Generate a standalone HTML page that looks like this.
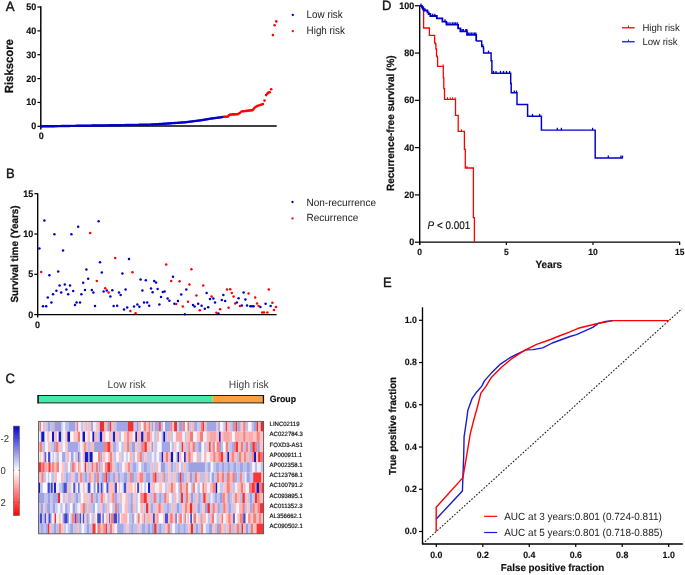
<!DOCTYPE html>
<html><head><meta charset="utf-8"><style>
html,body{margin:0;padding:0;background:#fff;}
svg{display:block;}
text{font-family:"Liberation Sans",sans-serif;text-rendering:geometricPrecision;}
text[font-weight="bold"]{stroke:#111;stroke-width:0.15px;}
text.rot[font-weight="bold"]{stroke-width:0.25px;}
</style></head><body>
<div style="will-change:transform;width:685px;height:575px"><svg width="685" height="575" viewBox="0 0 685 575">
<rect width="685" height="575" fill="#fff"/>
<text transform="translate(5.8,10.6) scale(1,1.04)" font-size="13.2" font-family="Liberation Sans, sans-serif" fill="#111" stroke="#111" stroke-width="0.35">A</text>
<line x1="40.8" y1="6.35" x2="40.8" y2="129.5" stroke="#000000" stroke-width="1.45"/>
<line x1="37.4" y1="126.30" x2="40.8" y2="126.30" stroke="#000000" stroke-width="1.2"/>
<text transform="translate(36.3,129.30) scale(1,1.04)" font-size="9" font-weight="bold" text-anchor="end" font-family="Liberation Sans, sans-serif" fill="#111">0</text>
<line x1="37.4" y1="102.44" x2="40.8" y2="102.44" stroke="#000000" stroke-width="1.2"/>
<text transform="translate(36.3,105.44) scale(1,1.04)" font-size="9" font-weight="bold" text-anchor="end" font-family="Liberation Sans, sans-serif" fill="#111">10</text>
<line x1="37.4" y1="78.58" x2="40.8" y2="78.58" stroke="#000000" stroke-width="1.2"/>
<text transform="translate(36.3,81.58) scale(1,1.04)" font-size="9" font-weight="bold" text-anchor="end" font-family="Liberation Sans, sans-serif" fill="#111">20</text>
<line x1="37.4" y1="54.72" x2="40.8" y2="54.72" stroke="#000000" stroke-width="1.2"/>
<text transform="translate(36.3,57.72) scale(1,1.04)" font-size="9" font-weight="bold" text-anchor="end" font-family="Liberation Sans, sans-serif" fill="#111">30</text>
<line x1="37.4" y1="30.86" x2="40.8" y2="30.86" stroke="#000000" stroke-width="1.2"/>
<text transform="translate(36.3,33.86) scale(1,1.04)" font-size="9" font-weight="bold" text-anchor="end" font-family="Liberation Sans, sans-serif" fill="#111">40</text>
<line x1="37.4" y1="7.00" x2="40.8" y2="7.00" stroke="#000000" stroke-width="1.2"/>
<text transform="translate(36.3,10.00) scale(1,1.04)" font-size="9" font-weight="bold" text-anchor="end" font-family="Liberation Sans, sans-serif" fill="#111">50</text>
<line x1="40.199999999999996" y1="125.95" x2="276.7" y2="125.95" stroke="#000000" stroke-width="1.35"/>
<text transform="translate(41.2,139.3) scale(1,1.04)" font-size="9" font-weight="bold" text-anchor="middle" font-family="Liberation Sans, sans-serif" fill="#111">0</text>
<text class="rot" transform="translate(13.4,66.2) rotate(-90) scale(1,1.04)" font-size="11.3" font-weight="bold" text-anchor="middle" font-family="Liberation Sans, sans-serif" fill="#111">Riskscore</text>
<circle cx="41.30" cy="126.40" r="1.2" fill="#0000c8"/>
<circle cx="42.30" cy="126.38" r="1.2" fill="#0000c8"/>
<circle cx="43.30" cy="126.36" r="1.2" fill="#0000c8"/>
<circle cx="44.30" cy="126.35" r="1.2" fill="#0000c8"/>
<circle cx="45.30" cy="126.33" r="1.2" fill="#0000c8"/>
<circle cx="46.30" cy="126.31" r="1.2" fill="#0000c8"/>
<circle cx="47.30" cy="126.30" r="1.2" fill="#0000c8"/>
<circle cx="48.30" cy="126.28" r="1.2" fill="#0000c8"/>
<circle cx="49.30" cy="126.26" r="1.2" fill="#0000c8"/>
<circle cx="50.30" cy="126.25" r="1.2" fill="#0000c8"/>
<circle cx="51.30" cy="126.23" r="1.2" fill="#0000c8"/>
<circle cx="52.30" cy="126.22" r="1.2" fill="#0000c8"/>
<circle cx="53.30" cy="126.20" r="1.2" fill="#0000c8"/>
<circle cx="54.30" cy="126.18" r="1.2" fill="#0000c8"/>
<circle cx="55.30" cy="126.17" r="1.2" fill="#0000c8"/>
<circle cx="56.30" cy="126.15" r="1.2" fill="#0000c8"/>
<circle cx="57.30" cy="126.13" r="1.2" fill="#0000c8"/>
<circle cx="58.30" cy="126.12" r="1.2" fill="#0000c8"/>
<circle cx="59.30" cy="126.10" r="1.2" fill="#0000c8"/>
<circle cx="60.30" cy="126.08" r="1.2" fill="#0000c8"/>
<circle cx="61.30" cy="126.07" r="1.2" fill="#0000c8"/>
<circle cx="62.30" cy="126.05" r="1.2" fill="#0000c8"/>
<circle cx="63.30" cy="126.04" r="1.2" fill="#0000c8"/>
<circle cx="64.30" cy="126.02" r="1.2" fill="#0000c8"/>
<circle cx="65.30" cy="126.00" r="1.2" fill="#0000c8"/>
<circle cx="66.30" cy="125.99" r="1.2" fill="#0000c8"/>
<circle cx="67.30" cy="125.97" r="1.2" fill="#0000c8"/>
<circle cx="68.30" cy="125.95" r="1.2" fill="#0000c8"/>
<circle cx="69.30" cy="125.94" r="1.2" fill="#0000c8"/>
<circle cx="70.30" cy="125.92" r="1.2" fill="#0000c8"/>
<circle cx="71.30" cy="125.91" r="1.2" fill="#0000c8"/>
<circle cx="72.30" cy="125.89" r="1.2" fill="#0000c8"/>
<circle cx="73.30" cy="125.87" r="1.2" fill="#0000c8"/>
<circle cx="74.30" cy="125.86" r="1.2" fill="#0000c8"/>
<circle cx="75.30" cy="125.84" r="1.2" fill="#0000c8"/>
<circle cx="76.30" cy="125.82" r="1.2" fill="#0000c8"/>
<circle cx="77.30" cy="125.81" r="1.2" fill="#0000c8"/>
<circle cx="78.30" cy="125.79" r="1.2" fill="#0000c8"/>
<circle cx="79.30" cy="125.77" r="1.2" fill="#0000c8"/>
<circle cx="80.30" cy="125.76" r="1.2" fill="#0000c8"/>
<circle cx="81.30" cy="125.74" r="1.2" fill="#0000c8"/>
<circle cx="82.30" cy="125.73" r="1.2" fill="#0000c8"/>
<circle cx="83.30" cy="125.71" r="1.2" fill="#0000c8"/>
<circle cx="84.30" cy="125.69" r="1.2" fill="#0000c8"/>
<circle cx="85.30" cy="125.68" r="1.2" fill="#0000c8"/>
<circle cx="86.30" cy="125.66" r="1.2" fill="#0000c8"/>
<circle cx="87.30" cy="125.64" r="1.2" fill="#0000c8"/>
<circle cx="88.30" cy="125.63" r="1.2" fill="#0000c8"/>
<circle cx="89.30" cy="125.61" r="1.2" fill="#0000c8"/>
<circle cx="90.30" cy="125.60" r="1.2" fill="#0000c8"/>
<circle cx="91.30" cy="125.58" r="1.2" fill="#0000c8"/>
<circle cx="92.30" cy="125.57" r="1.2" fill="#0000c8"/>
<circle cx="93.30" cy="125.55" r="1.2" fill="#0000c8"/>
<circle cx="94.30" cy="125.54" r="1.2" fill="#0000c8"/>
<circle cx="95.30" cy="125.52" r="1.2" fill="#0000c8"/>
<circle cx="96.30" cy="125.51" r="1.2" fill="#0000c8"/>
<circle cx="97.30" cy="125.49" r="1.2" fill="#0000c8"/>
<circle cx="98.30" cy="125.48" r="1.2" fill="#0000c8"/>
<circle cx="99.30" cy="125.46" r="1.2" fill="#0000c8"/>
<circle cx="100.30" cy="125.45" r="1.2" fill="#0000c8"/>
<circle cx="101.30" cy="125.43" r="1.2" fill="#0000c8"/>
<circle cx="102.30" cy="125.42" r="1.2" fill="#0000c8"/>
<circle cx="103.30" cy="125.40" r="1.2" fill="#0000c8"/>
<circle cx="104.30" cy="125.39" r="1.2" fill="#0000c8"/>
<circle cx="105.30" cy="125.37" r="1.2" fill="#0000c8"/>
<circle cx="106.30" cy="125.36" r="1.2" fill="#0000c8"/>
<circle cx="107.30" cy="125.34" r="1.2" fill="#0000c8"/>
<circle cx="108.30" cy="125.33" r="1.2" fill="#0000c8"/>
<circle cx="109.30" cy="125.31" r="1.2" fill="#0000c8"/>
<circle cx="110.30" cy="125.30" r="1.2" fill="#0000c8"/>
<circle cx="111.30" cy="125.28" r="1.2" fill="#0000c8"/>
<circle cx="112.30" cy="125.27" r="1.2" fill="#0000c8"/>
<circle cx="113.30" cy="125.25" r="1.2" fill="#0000c8"/>
<circle cx="114.30" cy="125.24" r="1.2" fill="#0000c8"/>
<circle cx="115.30" cy="125.22" r="1.2" fill="#0000c8"/>
<circle cx="116.30" cy="125.21" r="1.2" fill="#0000c8"/>
<circle cx="117.30" cy="125.19" r="1.2" fill="#0000c8"/>
<circle cx="118.30" cy="125.18" r="1.2" fill="#0000c8"/>
<circle cx="119.30" cy="125.16" r="1.2" fill="#0000c8"/>
<circle cx="120.30" cy="125.15" r="1.2" fill="#0000c8"/>
<circle cx="121.30" cy="125.13" r="1.2" fill="#0000c8"/>
<circle cx="122.30" cy="125.12" r="1.2" fill="#0000c8"/>
<circle cx="123.30" cy="125.10" r="1.2" fill="#0000c8"/>
<circle cx="124.30" cy="125.09" r="1.2" fill="#0000c8"/>
<circle cx="125.30" cy="125.07" r="1.2" fill="#0000c8"/>
<circle cx="126.30" cy="125.06" r="1.2" fill="#0000c8"/>
<circle cx="127.30" cy="125.04" r="1.2" fill="#0000c8"/>
<circle cx="128.30" cy="125.03" r="1.2" fill="#0000c8"/>
<circle cx="129.30" cy="125.01" r="1.2" fill="#0000c8"/>
<circle cx="130.30" cy="124.99" r="1.2" fill="#0000c8"/>
<circle cx="131.30" cy="124.97" r="1.2" fill="#0000c8"/>
<circle cx="132.30" cy="124.95" r="1.2" fill="#0000c8"/>
<circle cx="133.30" cy="124.93" r="1.2" fill="#0000c8"/>
<circle cx="134.30" cy="124.91" r="1.2" fill="#0000c8"/>
<circle cx="135.30" cy="124.89" r="1.2" fill="#0000c8"/>
<circle cx="136.30" cy="124.87" r="1.2" fill="#0000c8"/>
<circle cx="137.30" cy="124.85" r="1.2" fill="#0000c8"/>
<circle cx="138.30" cy="124.83" r="1.2" fill="#0000c8"/>
<circle cx="139.30" cy="124.81" r="1.2" fill="#0000c8"/>
<circle cx="140.30" cy="124.79" r="1.2" fill="#0000c8"/>
<circle cx="141.30" cy="124.77" r="1.2" fill="#0000c8"/>
<circle cx="142.30" cy="124.75" r="1.2" fill="#0000c8"/>
<circle cx="143.30" cy="124.73" r="1.2" fill="#0000c8"/>
<circle cx="144.30" cy="124.71" r="1.2" fill="#0000c8"/>
<circle cx="145.30" cy="124.69" r="1.2" fill="#0000c8"/>
<circle cx="146.30" cy="124.67" r="1.2" fill="#0000c8"/>
<circle cx="147.30" cy="124.65" r="1.2" fill="#0000c8"/>
<circle cx="148.30" cy="124.63" r="1.2" fill="#0000c8"/>
<circle cx="149.30" cy="124.61" r="1.2" fill="#0000c8"/>
<circle cx="150.30" cy="124.58" r="1.2" fill="#0000c8"/>
<circle cx="151.30" cy="124.52" r="1.2" fill="#0000c8"/>
<circle cx="152.30" cy="124.46" r="1.2" fill="#0000c8"/>
<circle cx="153.30" cy="124.39" r="1.2" fill="#0000c8"/>
<circle cx="154.30" cy="124.33" r="1.2" fill="#0000c8"/>
<circle cx="155.30" cy="124.27" r="1.2" fill="#0000c8"/>
<circle cx="156.30" cy="124.20" r="1.2" fill="#0000c8"/>
<circle cx="157.30" cy="124.14" r="1.2" fill="#0000c8"/>
<circle cx="158.30" cy="124.08" r="1.2" fill="#0000c8"/>
<circle cx="159.30" cy="124.02" r="1.2" fill="#0000c8"/>
<circle cx="160.30" cy="123.95" r="1.2" fill="#0000c8"/>
<circle cx="161.30" cy="123.89" r="1.2" fill="#0000c8"/>
<circle cx="162.30" cy="123.83" r="1.2" fill="#0000c8"/>
<circle cx="163.30" cy="123.76" r="1.2" fill="#0000c8"/>
<circle cx="164.30" cy="123.70" r="1.2" fill="#0000c8"/>
<circle cx="165.30" cy="123.64" r="1.2" fill="#0000c8"/>
<circle cx="166.30" cy="123.58" r="1.2" fill="#0000c8"/>
<circle cx="167.30" cy="123.51" r="1.2" fill="#0000c8"/>
<circle cx="168.30" cy="123.45" r="1.2" fill="#0000c8"/>
<circle cx="169.30" cy="123.38" r="1.2" fill="#0000c8"/>
<circle cx="170.30" cy="123.31" r="1.2" fill="#0000c8"/>
<circle cx="171.30" cy="123.24" r="1.2" fill="#0000c8"/>
<circle cx="172.30" cy="123.17" r="1.2" fill="#0000c8"/>
<circle cx="173.30" cy="123.10" r="1.2" fill="#0000c8"/>
<circle cx="174.30" cy="123.03" r="1.2" fill="#0000c8"/>
<circle cx="175.30" cy="122.97" r="1.2" fill="#0000c8"/>
<circle cx="176.30" cy="122.90" r="1.2" fill="#0000c8"/>
<circle cx="177.30" cy="122.83" r="1.2" fill="#0000c8"/>
<circle cx="178.30" cy="122.76" r="1.2" fill="#0000c8"/>
<circle cx="179.30" cy="122.69" r="1.2" fill="#0000c8"/>
<circle cx="180.30" cy="122.62" r="1.2" fill="#0000c8"/>
<circle cx="181.30" cy="122.55" r="1.2" fill="#0000c8"/>
<circle cx="182.30" cy="122.49" r="1.2" fill="#0000c8"/>
<circle cx="183.30" cy="122.42" r="1.2" fill="#0000c8"/>
<circle cx="184.30" cy="122.35" r="1.2" fill="#0000c8"/>
<circle cx="185.30" cy="122.26" r="1.2" fill="#0000c8"/>
<circle cx="186.30" cy="122.13" r="1.2" fill="#0000c8"/>
<circle cx="187.30" cy="122.01" r="1.2" fill="#0000c8"/>
<circle cx="188.30" cy="121.88" r="1.2" fill="#0000c8"/>
<circle cx="189.30" cy="121.75" r="1.2" fill="#0000c8"/>
<circle cx="190.30" cy="121.62" r="1.2" fill="#0000c8"/>
<circle cx="191.30" cy="121.49" r="1.2" fill="#0000c8"/>
<circle cx="192.30" cy="121.37" r="1.2" fill="#0000c8"/>
<circle cx="193.30" cy="121.24" r="1.2" fill="#0000c8"/>
<circle cx="194.30" cy="121.11" r="1.2" fill="#0000c8"/>
<circle cx="195.30" cy="120.98" r="1.2" fill="#0000c8"/>
<circle cx="196.30" cy="120.85" r="1.2" fill="#0000c8"/>
<circle cx="197.30" cy="120.72" r="1.2" fill="#0000c8"/>
<circle cx="198.30" cy="120.60" r="1.2" fill="#0000c8"/>
<circle cx="199.30" cy="120.47" r="1.2" fill="#0000c8"/>
<circle cx="200.30" cy="120.34" r="1.2" fill="#0000c8"/>
<circle cx="201.30" cy="120.21" r="1.2" fill="#0000c8"/>
<circle cx="202.30" cy="120.05" r="1.2" fill="#0000c8"/>
<circle cx="203.30" cy="119.87" r="1.2" fill="#0000c8"/>
<circle cx="204.30" cy="119.70" r="1.2" fill="#0000c8"/>
<circle cx="205.30" cy="119.53" r="1.2" fill="#0000c8"/>
<circle cx="206.30" cy="119.36" r="1.2" fill="#0000c8"/>
<circle cx="207.30" cy="119.18" r="1.2" fill="#0000c8"/>
<circle cx="208.30" cy="119.01" r="1.2" fill="#0000c8"/>
<circle cx="209.30" cy="118.84" r="1.2" fill="#0000c8"/>
<circle cx="210.30" cy="118.67" r="1.2" fill="#0000c8"/>
<circle cx="211.30" cy="118.52" r="1.2" fill="#0000c8"/>
<circle cx="212.30" cy="118.39" r="1.2" fill="#0000c8"/>
<circle cx="213.30" cy="118.26" r="1.2" fill="#0000c8"/>
<circle cx="214.30" cy="118.14" r="1.2" fill="#0000c8"/>
<circle cx="215.30" cy="118.01" r="1.2" fill="#0000c8"/>
<circle cx="216.30" cy="117.88" r="1.2" fill="#0000c8"/>
<circle cx="217.30" cy="117.75" r="1.2" fill="#0000c8"/>
<circle cx="218.30" cy="117.62" r="1.2" fill="#0000c8"/>
<circle cx="219.30" cy="117.49" r="1.2" fill="#0000c8"/>
<circle cx="220.30" cy="117.36" r="1.2" fill="#0000c8"/>
<circle cx="221.30" cy="117.20" r="1.2" fill="#0000c8"/>
<circle cx="222.30" cy="117.05" r="1.2" fill="#0000c8"/>
<circle cx="223.30" cy="116.91" r="1.2" fill="#0000c8"/>
<circle cx="224.50" cy="116.80" r="1.3" fill="#ff0000"/>
<circle cx="225.50" cy="116.70" r="1.3" fill="#ff0000"/>
<circle cx="226.60" cy="116.70" r="1.3" fill="#ff0000"/>
<circle cx="227.90" cy="116.60" r="1.3" fill="#ff0000"/>
<circle cx="229.00" cy="115.20" r="1.3" fill="#ff0000"/>
<circle cx="230.20" cy="114.60" r="1.3" fill="#ff0000"/>
<circle cx="231.50" cy="114.50" r="1.3" fill="#ff0000"/>
<circle cx="232.80" cy="114.40" r="1.3" fill="#ff0000"/>
<circle cx="234.00" cy="114.40" r="1.3" fill="#ff0000"/>
<circle cx="235.20" cy="114.30" r="1.3" fill="#ff0000"/>
<circle cx="236.40" cy="114.20" r="1.3" fill="#ff0000"/>
<circle cx="237.50" cy="114.20" r="1.3" fill="#ff0000"/>
<circle cx="238.80" cy="113.60" r="1.3" fill="#ff0000"/>
<circle cx="240.10" cy="112.80" r="1.3" fill="#ff0000"/>
<circle cx="241.50" cy="111.50" r="1.3" fill="#ff0000"/>
<circle cx="242.80" cy="111.30" r="1.3" fill="#ff0000"/>
<circle cx="244.00" cy="111.20" r="1.3" fill="#ff0000"/>
<circle cx="245.30" cy="111.00" r="1.3" fill="#ff0000"/>
<circle cx="246.60" cy="110.90" r="1.3" fill="#ff0000"/>
<circle cx="247.90" cy="110.70" r="1.3" fill="#ff0000"/>
<circle cx="249.10" cy="110.50" r="1.3" fill="#ff0000"/>
<circle cx="250.30" cy="110.40" r="1.3" fill="#ff0000"/>
<circle cx="251.50" cy="110.30" r="1.3" fill="#ff0000"/>
<circle cx="252.40" cy="110.20" r="1.3" fill="#ff0000"/>
<circle cx="253.50" cy="109.00" r="1.3" fill="#ff0000"/>
<circle cx="254.60" cy="107.80" r="1.3" fill="#ff0000"/>
<circle cx="255.90" cy="106.70" r="1.3" fill="#ff0000"/>
<circle cx="257.20" cy="106.00" r="1.3" fill="#ff0000"/>
<circle cx="258.60" cy="105.50" r="1.3" fill="#ff0000"/>
<circle cx="260.30" cy="105.00" r="1.3" fill="#ff0000"/>
<circle cx="261.60" cy="104.50" r="1.3" fill="#ff0000"/>
<circle cx="262.90" cy="104.10" r="1.3" fill="#ff0000"/>
<circle cx="264.50" cy="100.60" r="1.3" fill="#ff0000"/>
<circle cx="266.10" cy="95.10" r="1.3" fill="#ff0000"/>
<circle cx="267.30" cy="93.60" r="1.3" fill="#ff0000"/>
<circle cx="268.50" cy="92.60" r="1.3" fill="#ff0000"/>
<circle cx="269.70" cy="92.30" r="1.3" fill="#ff0000"/>
<circle cx="271.20" cy="89.20" r="1.3" fill="#ff0000"/>
<circle cx="272.90" cy="35.10" r="1.3" fill="#ff0000"/>
<circle cx="274.60" cy="25.20" r="1.3" fill="#ff0000"/>
<circle cx="276.30" cy="21.40" r="1.3" fill="#ff0000"/>
<circle cx="292.8" cy="15" r="1.15" fill="#0000c8"/>
<circle cx="292.8" cy="31.2" r="1.15" fill="#ff0000"/>
<text transform="translate(306.6,18.2) scale(1,1.04)" font-size="10.4" textLength="36.1" lengthAdjust="spacingAndGlyphs" font-family="Liberation Sans, sans-serif" fill="#1a1a1a">Low risk</text>
<text transform="translate(306.6,33.8) scale(1,1.04)" font-size="10.4" textLength="38.3" lengthAdjust="spacingAndGlyphs" font-family="Liberation Sans, sans-serif" fill="#1a1a1a">High risk</text>
<text transform="translate(5.9,177.8) scale(1,1.04)" font-size="13" font-family="Liberation Sans, sans-serif" fill="#111" stroke="#111" stroke-width="0.35">B</text>
<line x1="37.7" y1="193.3" x2="37.7" y2="317.5" stroke="#000000" stroke-width="1.35"/>
<line x1="34.3" y1="314.60" x2="37.7" y2="314.60" stroke="#000000" stroke-width="1.2"/>
<text transform="translate(33.2,317.60) scale(1,1.04)" font-size="9" font-weight="bold" text-anchor="end" font-family="Liberation Sans, sans-serif" fill="#111">0</text>
<line x1="34.3" y1="274.30" x2="37.7" y2="274.30" stroke="#000000" stroke-width="1.2"/>
<text transform="translate(33.2,277.30) scale(1,1.04)" font-size="9" font-weight="bold" text-anchor="end" font-family="Liberation Sans, sans-serif" fill="#111">5</text>
<line x1="34.3" y1="234.00" x2="37.7" y2="234.00" stroke="#000000" stroke-width="1.2"/>
<text transform="translate(33.2,237.00) scale(1,1.04)" font-size="9" font-weight="bold" text-anchor="end" font-family="Liberation Sans, sans-serif" fill="#111">10</text>
<line x1="34.3" y1="193.70" x2="37.7" y2="193.70" stroke="#000000" stroke-width="1.2"/>
<text transform="translate(33.2,196.70) scale(1,1.04)" font-size="9" font-weight="bold" text-anchor="end" font-family="Liberation Sans, sans-serif" fill="#111">15</text>
<line x1="37.1" y1="314.6" x2="276.6" y2="314.6" stroke="#000000" stroke-width="1.25"/>
<text transform="translate(37.6,327.7) scale(1,1.04)" font-size="9" font-weight="bold" text-anchor="middle" font-family="Liberation Sans, sans-serif" fill="#111">0</text>
<text class="rot" transform="translate(17.6,254) rotate(-90) scale(1,1.04)" font-size="9.9" font-weight="bold" text-anchor="middle" font-family="Liberation Sans, sans-serif" fill="#111">Survival time (Years)</text>
<circle cx="44.4" cy="220.4" r="1.25" fill="#0000c8"/>
<circle cx="39.4" cy="248.4" r="1.25" fill="#0000c8"/>
<circle cx="54.4" cy="234.2" r="1.25" fill="#0000c8"/>
<circle cx="71.4" cy="234.2" r="1.25" fill="#0000c8"/>
<circle cx="78.2" cy="226.8" r="1.25" fill="#0000c8"/>
<circle cx="98.6" cy="221.2" r="1.25" fill="#0000c8"/>
<circle cx="63" cy="250.6" r="1.25" fill="#0000c8"/>
<circle cx="49.4" cy="275.2" r="1.25" fill="#0000c8"/>
<circle cx="58.2" cy="271.4" r="1.25" fill="#0000c8"/>
<circle cx="86.4" cy="269.4" r="1.25" fill="#0000c8"/>
<circle cx="100" cy="262.2" r="1.25" fill="#0000c8"/>
<circle cx="101.8" cy="272.4" r="1.25" fill="#0000c8"/>
<circle cx="88.2" cy="278.8" r="1.25" fill="#0000c8"/>
<circle cx="83.2" cy="282.8" r="1.25" fill="#0000c8"/>
<circle cx="59.6" cy="285.4" r="1.25" fill="#0000c8"/>
<circle cx="64.8" cy="284.4" r="1.25" fill="#0000c8"/>
<circle cx="70" cy="285.4" r="1.25" fill="#0000c8"/>
<circle cx="56.4" cy="290.8" r="1.25" fill="#0000c8"/>
<circle cx="61.2" cy="292.4" r="1.25" fill="#0000c8"/>
<circle cx="66.4" cy="289.6" r="1.25" fill="#0000c8"/>
<circle cx="68.2" cy="294.2" r="1.25" fill="#0000c8"/>
<circle cx="73.2" cy="291" r="1.25" fill="#0000c8"/>
<circle cx="53" cy="294.2" r="1.25" fill="#0000c8"/>
<circle cx="47.8" cy="297.6" r="1.25" fill="#0000c8"/>
<circle cx="51.4" cy="302.4" r="1.25" fill="#0000c8"/>
<circle cx="43" cy="306.2" r="1.25" fill="#0000c8"/>
<circle cx="46.2" cy="306.2" r="1.25" fill="#0000c8"/>
<circle cx="75" cy="305" r="1.25" fill="#0000c8"/>
<circle cx="76.6" cy="302.4" r="1.25" fill="#0000c8"/>
<circle cx="80" cy="302.4" r="1.25" fill="#0000c8"/>
<circle cx="81.4" cy="294.2" r="1.25" fill="#0000c8"/>
<circle cx="85" cy="290" r="1.25" fill="#0000c8"/>
<circle cx="91.8" cy="290" r="1.25" fill="#0000c8"/>
<circle cx="93.4" cy="292.4" r="1.25" fill="#0000c8"/>
<circle cx="95" cy="306" r="1.25" fill="#0000c8"/>
<circle cx="103.6" cy="291.4" r="1.25" fill="#0000c8"/>
<circle cx="106.8" cy="290.4" r="1.25" fill="#0000c8"/>
<circle cx="110.4" cy="296.4" r="1.25" fill="#0000c8"/>
<circle cx="112.3" cy="290.2" r="1.25" fill="#0000c8"/>
<circle cx="113.6" cy="306" r="1.25" fill="#0000c8"/>
<circle cx="117.2" cy="305.8" r="1.25" fill="#0000c8"/>
<circle cx="129" cy="259" r="1.25" fill="#0000c8"/>
<circle cx="122.4" cy="273.6" r="1.25" fill="#0000c8"/>
<circle cx="119" cy="292.4" r="1.25" fill="#0000c8"/>
<circle cx="120.6" cy="295" r="1.25" fill="#0000c8"/>
<circle cx="125.6" cy="289.4" r="1.25" fill="#0000c8"/>
<circle cx="124" cy="309.6" r="1.25" fill="#0000c8"/>
<circle cx="127.2" cy="307.6" r="1.25" fill="#0000c8"/>
<circle cx="134" cy="306.4" r="1.25" fill="#0000c8"/>
<circle cx="137.4" cy="304.6" r="1.25" fill="#0000c8"/>
<circle cx="139.4" cy="306.8" r="1.25" fill="#0000c8"/>
<circle cx="140.6" cy="279.6" r="1.25" fill="#0000c8"/>
<circle cx="145.8" cy="280.2" r="1.25" fill="#0000c8"/>
<circle cx="142.4" cy="290.6" r="1.25" fill="#0000c8"/>
<circle cx="144" cy="302.4" r="1.25" fill="#0000c8"/>
<circle cx="147.2" cy="302.4" r="1.25" fill="#0000c8"/>
<circle cx="149.2" cy="305.8" r="1.25" fill="#0000c8"/>
<circle cx="151" cy="288.4" r="1.25" fill="#0000c8"/>
<circle cx="152.6" cy="292.2" r="1.25" fill="#0000c8"/>
<circle cx="154.2" cy="281" r="1.25" fill="#0000c8"/>
<circle cx="156" cy="282.4" r="1.25" fill="#0000c8"/>
<circle cx="157.6" cy="289" r="1.25" fill="#0000c8"/>
<circle cx="159.4" cy="304.4" r="1.25" fill="#0000c8"/>
<circle cx="161" cy="297" r="1.25" fill="#0000c8"/>
<circle cx="162.8" cy="292" r="1.25" fill="#0000c8"/>
<circle cx="164.6" cy="291.6" r="1.25" fill="#0000c8"/>
<circle cx="167.6" cy="298.4" r="1.25" fill="#0000c8"/>
<circle cx="169.4" cy="300.8" r="1.25" fill="#0000c8"/>
<circle cx="173" cy="276.8" r="1.25" fill="#0000c8"/>
<circle cx="174.4" cy="303.8" r="1.25" fill="#0000c8"/>
<circle cx="178" cy="301" r="1.25" fill="#0000c8"/>
<circle cx="181.2" cy="294.4" r="1.25" fill="#0000c8"/>
<circle cx="186.3" cy="289.5" r="1.25" fill="#0000c8"/>
<circle cx="184.8" cy="314.2" r="1.25" fill="#0000c8"/>
<circle cx="193" cy="305" r="1.25" fill="#0000c8"/>
<circle cx="194.6" cy="306.4" r="1.25" fill="#0000c8"/>
<circle cx="198.2" cy="303.8" r="1.25" fill="#0000c8"/>
<circle cx="201.6" cy="305.8" r="1.25" fill="#0000c8"/>
<circle cx="204.8" cy="308.8" r="1.25" fill="#0000c8"/>
<circle cx="208.2" cy="307.2" r="1.25" fill="#0000c8"/>
<circle cx="206.6" cy="293" r="1.25" fill="#0000c8"/>
<circle cx="210" cy="299" r="1.25" fill="#0000c8"/>
<circle cx="213.4" cy="298.4" r="1.25" fill="#0000c8"/>
<circle cx="215" cy="302.6" r="1.25" fill="#0000c8"/>
<circle cx="218.4" cy="313.6" r="1.25" fill="#0000c8"/>
<circle cx="221.8" cy="300" r="1.25" fill="#0000c8"/>
<circle cx="223.4" cy="295" r="1.25" fill="#0000c8"/>
<circle cx="225.2" cy="301" r="1.25" fill="#0000c8"/>
<circle cx="236.8" cy="302.4" r="1.25" fill="#0000c8"/>
<circle cx="238.6" cy="298.2" r="1.25" fill="#0000c8"/>
<circle cx="241.8" cy="305.6" r="1.25" fill="#0000c8"/>
<circle cx="243.6" cy="292.4" r="1.25" fill="#0000c8"/>
<circle cx="245.4" cy="299.6" r="1.25" fill="#0000c8"/>
<circle cx="247" cy="305.6" r="1.25" fill="#0000c8"/>
<circle cx="250.4" cy="306.2" r="1.25" fill="#0000c8"/>
<circle cx="252" cy="306.2" r="1.25" fill="#0000c8"/>
<circle cx="253.6" cy="306.2" r="1.25" fill="#0000c8"/>
<circle cx="260.4" cy="307" r="1.25" fill="#0000c8"/>
<circle cx="265.6" cy="303.8" r="1.25" fill="#0000c8"/>
<circle cx="270.6" cy="306" r="1.25" fill="#0000c8"/>
<circle cx="41.2" cy="272" r="1.25" fill="#ff0000"/>
<circle cx="90.2" cy="233" r="1.25" fill="#ff0000"/>
<circle cx="96.8" cy="281" r="1.25" fill="#ff0000"/>
<circle cx="105.2" cy="288.2" r="1.25" fill="#ff0000"/>
<circle cx="108.6" cy="292.4" r="1.25" fill="#ff0000"/>
<circle cx="115.2" cy="258" r="1.25" fill="#ff0000"/>
<circle cx="132.4" cy="272.2" r="1.25" fill="#ff0000"/>
<circle cx="166.2" cy="264.4" r="1.25" fill="#ff0000"/>
<circle cx="171.2" cy="281" r="1.25" fill="#ff0000"/>
<circle cx="179.6" cy="281.2" r="1.25" fill="#ff0000"/>
<circle cx="189.4" cy="284.6" r="1.25" fill="#ff0000"/>
<circle cx="176.2" cy="304" r="1.25" fill="#ff0000"/>
<circle cx="182.8" cy="306.4" r="1.25" fill="#ff0000"/>
<circle cx="188" cy="301.8" r="1.25" fill="#ff0000"/>
<circle cx="130.4" cy="311" r="1.25" fill="#ff0000"/>
<circle cx="135.6" cy="313.2" r="1.25" fill="#ff0000"/>
<circle cx="191.4" cy="269.2" r="1.25" fill="#ff0000"/>
<circle cx="196.4" cy="295.4" r="1.25" fill="#ff0000"/>
<circle cx="203.2" cy="285.6" r="1.25" fill="#ff0000"/>
<circle cx="199.8" cy="310.2" r="1.25" fill="#ff0000"/>
<circle cx="211.6" cy="296.4" r="1.25" fill="#ff0000"/>
<circle cx="216.4" cy="312.8" r="1.25" fill="#ff0000"/>
<circle cx="220.2" cy="309.2" r="1.25" fill="#ff0000"/>
<circle cx="227" cy="289.6" r="1.25" fill="#ff0000"/>
<circle cx="230.2" cy="289.2" r="1.25" fill="#ff0000"/>
<circle cx="231.8" cy="293" r="1.25" fill="#ff0000"/>
<circle cx="233.6" cy="296.6" r="1.25" fill="#ff0000"/>
<circle cx="235.2" cy="303.4" r="1.25" fill="#ff0000"/>
<circle cx="228.6" cy="307.8" r="1.25" fill="#ff0000"/>
<circle cx="240" cy="306" r="1.25" fill="#ff0000"/>
<circle cx="248.6" cy="293.6" r="1.25" fill="#ff0000"/>
<circle cx="255.2" cy="297.6" r="1.25" fill="#ff0000"/>
<circle cx="257" cy="303.4" r="1.25" fill="#ff0000"/>
<circle cx="258.6" cy="306" r="1.25" fill="#ff0000"/>
<circle cx="262.2" cy="312.6" r="1.25" fill="#ff0000"/>
<circle cx="264" cy="312.6" r="1.25" fill="#ff0000"/>
<circle cx="267.4" cy="312.6" r="1.25" fill="#ff0000"/>
<circle cx="268.8" cy="289.6" r="1.25" fill="#ff0000"/>
<circle cx="272.4" cy="302.8" r="1.25" fill="#ff0000"/>
<circle cx="274" cy="310" r="1.25" fill="#ff0000"/>
<circle cx="276" cy="307" r="1.25" fill="#ff0000"/>
<circle cx="292.5" cy="202" r="1.15" fill="#0000c8"/>
<circle cx="292.5" cy="218.4" r="1.15" fill="#ff0000"/>
<text transform="translate(306.5,205.6) scale(1,1.04)" font-size="10" font-family="Liberation Sans, sans-serif" fill="#1a1a1a">Non-recurrence</text>
<text transform="translate(306.5,221.3) scale(1,1.04)" font-size="10" font-family="Liberation Sans, sans-serif" fill="#1a1a1a">Recurrence</text>
<text transform="translate(5.4,382.8) scale(1,1.04)" font-size="13" font-family="Liberation Sans, sans-serif" fill="#111" stroke="#111" stroke-width="0.35">C</text>
<text transform="translate(107.5,387.7) scale(1,1.04)" font-size="10.4" font-family="Liberation Sans, sans-serif" fill="#444">Low risk</text>
<text transform="translate(228.7,387.8) scale(1,1.04)" font-size="10.3" font-family="Liberation Sans, sans-serif" fill="#444">High risk</text>
<rect x="38" y="395.5" width="174.4" height="7.4" fill="#44eaa9"/>
<rect x="212.4" y="395.5" width="51.2" height="7.4" fill="#f8a043"/>
<rect x="38" y="395.5" width="225.6" height="7.4" fill="none" stroke="#222" stroke-width="1"/>
<line x1="38.1" y1="395" x2="38.1" y2="403.4" stroke="#111" stroke-width="1.2"/>
<line x1="263.4" y1="395" x2="263.4" y2="403.4" stroke="#111" stroke-width="1.2"/>
<text transform="translate(269.7,401.9) scale(1,1.04)" font-size="8.8" font-weight="bold" font-family="Liberation Sans, sans-serif" fill="#111">Group</text>
<defs><filter id="hb" x="-2%" y="-2%" width="104%" height="104%"><feGaussianBlur stdDeviation="0.35"/></filter></defs>
<g filter="url(#hb)"><rect x="38.60" y="421.40" width="1.09" height="10.26" fill="#bdc1eb"/>
<rect x="39.65" y="421.40" width="1.69" height="10.26" fill="#f17b7b"/>
<rect x="41.30" y="421.40" width="1.69" height="10.26" fill="#f7f4fb"/>
<rect x="42.95" y="421.40" width="2.51" height="10.26" fill="#f7b8b8"/>
<rect x="45.42" y="421.40" width="2.51" height="10.26" fill="#c0c4ee"/>
<rect x="47.90" y="421.40" width="2.51" height="10.26" fill="#9ea2e3"/>
<rect x="50.37" y="421.40" width="3.34" height="10.26" fill="#babee8"/>
<rect x="53.67" y="421.40" width="0.86" height="10.26" fill="#f68080"/>
<rect x="54.50" y="421.40" width="6.64" height="10.26" fill="#9a9edf"/>
<rect x="61.09" y="421.40" width="1.69" height="10.26" fill="#bfc3ed"/>
<rect x="62.74" y="421.40" width="2.51" height="10.26" fill="#f0edf4"/>
<rect x="65.22" y="421.40" width="3.34" height="10.26" fill="#bbbfe9"/>
<rect x="68.52" y="421.40" width="6.64" height="10.26" fill="#9fa3e4"/>
<rect x="75.12" y="421.40" width="1.69" height="10.26" fill="#c3c7f1"/>
<rect x="76.77" y="421.40" width="1.69" height="10.26" fill="#f17b7b"/>
<rect x="78.42" y="421.40" width="2.51" height="10.26" fill="#f2eff6"/>
<rect x="80.89" y="421.40" width="2.51" height="10.26" fill="#c1c5ef"/>
<rect x="83.36" y="421.40" width="2.51" height="10.26" fill="#ffc3c3"/>
<rect x="85.84" y="421.40" width="1.69" height="10.26" fill="#c0c4ee"/>
<rect x="87.49" y="421.40" width="3.34" height="10.26" fill="#fbbcbc"/>
<rect x="90.79" y="421.40" width="2.51" height="10.26" fill="#a5a9ea"/>
<rect x="93.26" y="421.40" width="2.51" height="10.26" fill="#f0edf4"/>
<rect x="95.74" y="421.40" width="2.51" height="10.26" fill="#ffc2c2"/>
<rect x="98.21" y="421.40" width="1.69" height="10.26" fill="#bdc1eb"/>
<rect x="99.86" y="421.40" width="4.16" height="10.26" fill="#ee2d2d"/>
<rect x="103.98" y="421.40" width="3.34" height="10.26" fill="#f8b9b9"/>
<rect x="107.28" y="421.40" width="2.51" height="10.26" fill="#9da1e2"/>
<rect x="109.76" y="421.40" width="1.69" height="10.26" fill="#f63535"/>
<rect x="111.41" y="421.40" width="2.51" height="10.26" fill="#f9baba"/>
<rect x="113.88" y="421.40" width="2.51" height="10.26" fill="#c0c4ee"/>
<rect x="116.36" y="421.40" width="11.59" height="10.26" fill="#a1a5e6"/>
<rect x="127.90" y="421.40" width="5.81" height="10.26" fill="#f13030"/>
<rect x="133.68" y="421.40" width="3.34" height="10.26" fill="#c0c4ee"/>
<rect x="136.98" y="421.40" width="1.69" height="10.26" fill="#9a9edf"/>
<rect x="138.63" y="421.40" width="2.51" height="10.26" fill="#f7b8b8"/>
<rect x="141.10" y="421.40" width="2.51" height="10.26" fill="#f2eff6"/>
<rect x="143.58" y="421.40" width="2.51" height="10.26" fill="#f88282"/>
<rect x="146.05" y="421.40" width="2.51" height="10.26" fill="#fcbdbd"/>
<rect x="148.52" y="421.40" width="2.02" height="10.26" fill="#f37d7d"/>
<rect x="150.50" y="421.40" width="1.20" height="10.26" fill="#c1c5ef"/>
<rect x="151.66" y="421.40" width="1.70" height="10.26" fill="#9fa3e4"/>
<rect x="153.33" y="421.40" width="1.70" height="10.26" fill="#fabbbb"/>
<rect x="154.99" y="421.40" width="4.20" height="10.26" fill="#a3a7e8"/>
<rect x="159.15" y="421.40" width="1.70" height="10.26" fill="#f53434"/>
<rect x="160.82" y="421.40" width="2.54" height="10.26" fill="#bcc0ea"/>
<rect x="163.31" y="421.40" width="1.70" height="10.26" fill="#f6f3fa"/>
<rect x="164.98" y="421.40" width="5.86" height="10.26" fill="#a0a4e5"/>
<rect x="170.80" y="421.40" width="1.70" height="10.26" fill="#fa8484"/>
<rect x="172.47" y="421.40" width="1.70" height="10.26" fill="#ffc0c0"/>
<rect x="174.13" y="421.40" width="2.87" height="10.26" fill="#f02f2f"/>
<rect x="176.96" y="421.40" width="2.20" height="10.26" fill="#c5c9f3"/>
<rect x="179.12" y="421.40" width="3.37" height="10.26" fill="#9b9fe0"/>
<rect x="182.45" y="421.40" width="2.54" height="10.26" fill="#f57f7f"/>
<rect x="184.95" y="421.40" width="2.54" height="10.26" fill="#f9f6fd"/>
<rect x="187.44" y="421.40" width="1.70" height="10.26" fill="#f17b7b"/>
<rect x="189.11" y="421.40" width="2.54" height="10.26" fill="#bfc3ed"/>
<rect x="191.60" y="421.40" width="2.54" height="10.26" fill="#f7b8b8"/>
<rect x="194.10" y="421.40" width="3.37" height="10.26" fill="#a2a6e7"/>
<rect x="197.43" y="421.40" width="3.37" height="10.26" fill="#c3c7f1"/>
<rect x="200.76" y="421.40" width="1.70" height="10.26" fill="#f68080"/>
<rect x="202.42" y="421.40" width="1.70" height="10.26" fill="#f73636"/>
<rect x="204.09" y="421.40" width="2.54" height="10.26" fill="#fabbbb"/>
<rect x="206.58" y="421.40" width="10.03" height="10.26" fill="#a2a6e7"/>
<rect x="216.57" y="421.40" width="1.70" height="10.26" fill="#febfbf"/>
<rect x="218.23" y="421.40" width="1.70" height="10.26" fill="#a0a4e5"/>
<rect x="219.90" y="421.40" width="3.37" height="10.26" fill="#f5f2f9"/>
<rect x="223.22" y="421.40" width="2.54" height="10.26" fill="#c4c8f2"/>
<rect x="225.72" y="421.40" width="1.70" height="10.26" fill="#f83737"/>
<rect x="227.38" y="421.40" width="2.54" height="10.26" fill="#fcbdbd"/>
<rect x="229.88" y="421.40" width="2.54" height="10.26" fill="#c1c5ef"/>
<rect x="232.38" y="421.40" width="1.70" height="10.26" fill="#9a9edf"/>
<rect x="234.04" y="421.40" width="1.70" height="10.26" fill="#f88282"/>
<rect x="235.70" y="421.40" width="1.70" height="10.26" fill="#f43333"/>
<rect x="237.37" y="421.40" width="3.37" height="10.26" fill="#a5a9ea"/>
<rect x="240.70" y="421.40" width="2.54" height="10.26" fill="#ffc1c1"/>
<rect x="243.19" y="421.40" width="2.54" height="10.26" fill="#f37d7d"/>
<rect x="245.69" y="421.40" width="2.54" height="10.26" fill="#bec2ec"/>
<rect x="248.19" y="421.40" width="3.37" height="10.26" fill="#f8f5fc"/>
<rect x="251.51" y="421.40" width="2.54" height="10.26" fill="#babee8"/>
<rect x="254.01" y="421.40" width="2.54" height="10.26" fill="#9fa3e4"/>
<rect x="256.51" y="421.40" width="1.70" height="10.26" fill="#ef2e2e"/>
<rect x="258.17" y="421.40" width="2.54" height="10.26" fill="#f8b9b9"/>
<rect x="260.67" y="421.40" width="2.97" height="10.26" fill="#ed2c2c"/>
<rect x="38.60" y="431.62" width="1.91" height="10.26" fill="#f9f6fd"/>
<rect x="40.47" y="431.62" width="0.86" height="10.26" fill="#bbbfe9"/>
<rect x="41.30" y="431.62" width="3.34" height="10.26" fill="#1515ba"/>
<rect x="44.60" y="431.62" width="2.51" height="10.26" fill="#f4f1f8"/>
<rect x="47.07" y="431.62" width="2.51" height="10.26" fill="#ffc2c2"/>
<rect x="49.55" y="431.62" width="2.51" height="10.26" fill="#f0edf4"/>
<rect x="52.02" y="431.62" width="2.18" height="10.26" fill="#1818bd"/>
<rect x="54.17" y="431.62" width="2.84" height="10.26" fill="#fdbebe"/>
<rect x="56.97" y="431.62" width="1.69" height="10.26" fill="#faf7fe"/>
<rect x="58.62" y="431.62" width="2.51" height="10.26" fill="#1c1cc1"/>
<rect x="61.09" y="431.62" width="1.69" height="10.26" fill="#c4c8f2"/>
<rect x="62.74" y="431.62" width="2.51" height="10.26" fill="#f3f0f7"/>
<rect x="65.22" y="431.62" width="2.18" height="10.26" fill="#fbbcbc"/>
<rect x="67.36" y="431.62" width="2.84" height="10.26" fill="#1717bc"/>
<rect x="70.17" y="431.62" width="3.34" height="10.26" fill="#faf7fe"/>
<rect x="73.47" y="431.62" width="4.16" height="10.26" fill="#ffc3c3"/>
<rect x="77.59" y="431.62" width="2.51" height="10.26" fill="#f17b7b"/>
<rect x="80.07" y="431.62" width="2.51" height="10.26" fill="#f2eff6"/>
<rect x="82.54" y="431.62" width="2.51" height="10.26" fill="#1515ba"/>
<rect x="85.01" y="431.62" width="2.51" height="10.26" fill="#f2eff6"/>
<rect x="87.49" y="431.62" width="2.51" height="10.26" fill="#fcbdbd"/>
<rect x="89.96" y="431.62" width="2.51" height="10.26" fill="#f7f4fb"/>
<rect x="92.44" y="431.62" width="2.02" height="10.26" fill="#1616bb"/>
<rect x="94.42" y="431.62" width="3.01" height="10.26" fill="#f7b8b8"/>
<rect x="97.39" y="431.62" width="2.51" height="10.26" fill="#bfc3ed"/>
<rect x="99.86" y="431.62" width="2.51" height="10.26" fill="#1717bc"/>
<rect x="102.34" y="431.62" width="3.34" height="10.26" fill="#fdbebe"/>
<rect x="105.63" y="431.62" width="3.34" height="10.26" fill="#fbf8ff"/>
<rect x="108.93" y="431.62" width="2.51" height="10.26" fill="#ffc0c0"/>
<rect x="111.41" y="431.62" width="1.69" height="10.26" fill="#c0c4ee"/>
<rect x="113.06" y="431.62" width="2.18" height="10.26" fill="#1a1abf"/>
<rect x="115.20" y="431.62" width="3.67" height="10.26" fill="#ffc0c0"/>
<rect x="118.83" y="431.62" width="2.51" height="10.26" fill="#babee8"/>
<rect x="121.31" y="431.62" width="2.51" height="10.26" fill="#faf7fe"/>
<rect x="123.78" y="431.62" width="3.34" height="10.26" fill="#ffc1c1"/>
<rect x="127.08" y="431.62" width="2.51" height="10.26" fill="#fa8484"/>
<rect x="129.55" y="431.62" width="3.34" height="10.26" fill="#ffc1c1"/>
<rect x="132.85" y="431.62" width="2.51" height="10.26" fill="#f4f1f8"/>
<rect x="135.33" y="431.62" width="1.69" height="10.26" fill="#1717bc"/>
<rect x="136.98" y="431.62" width="4.16" height="10.26" fill="#f8b9b9"/>
<rect x="141.10" y="431.62" width="2.51" height="10.26" fill="#1a1abf"/>
<rect x="143.58" y="431.62" width="3.34" height="10.26" fill="#f7b8b8"/>
<rect x="146.87" y="431.62" width="3.67" height="10.26" fill="#f07a7a"/>
<rect x="150.50" y="431.62" width="2.04" height="10.26" fill="#f9baba"/>
<rect x="152.50" y="431.62" width="1.70" height="10.26" fill="#f1eef5"/>
<rect x="154.16" y="431.62" width="2.54" height="10.26" fill="#bec2ec"/>
<rect x="156.66" y="431.62" width="2.54" height="10.26" fill="#f7b8b8"/>
<rect x="159.15" y="431.62" width="2.54" height="10.26" fill="#f0edf4"/>
<rect x="161.65" y="431.62" width="1.70" height="10.26" fill="#bbbfe9"/>
<rect x="163.31" y="431.62" width="1.70" height="10.26" fill="#1414b9"/>
<rect x="164.98" y="431.62" width="2.54" height="10.26" fill="#bec2ec"/>
<rect x="167.47" y="431.62" width="3.37" height="10.26" fill="#f7b8b8"/>
<rect x="170.80" y="431.62" width="2.54" height="10.26" fill="#c4c8f2"/>
<rect x="173.30" y="431.62" width="2.54" height="10.26" fill="#f7f4fb"/>
<rect x="175.79" y="431.62" width="6.70" height="10.26" fill="#f7a7a7"/>
<rect x="182.45" y="431.62" width="2.54" height="10.26" fill="#f3f0f7"/>
<rect x="184.95" y="431.62" width="1.70" height="10.26" fill="#bec2ec"/>
<rect x="186.61" y="431.62" width="3.37" height="10.26" fill="#fbbcbc"/>
<rect x="189.94" y="431.62" width="3.37" height="10.26" fill="#f17b7b"/>
<rect x="193.27" y="431.62" width="3.37" height="10.26" fill="#faf7fe"/>
<rect x="196.60" y="431.62" width="3.37" height="10.26" fill="#ffc3c3"/>
<rect x="199.93" y="431.62" width="3.37" height="10.26" fill="#f57f7f"/>
<rect x="203.25" y="431.62" width="3.37" height="10.26" fill="#f5f2f9"/>
<rect x="206.58" y="431.62" width="3.37" height="10.26" fill="#f8b9b9"/>
<rect x="209.91" y="431.62" width="6.70" height="10.26" fill="#f7a7a7"/>
<rect x="216.57" y="431.62" width="2.54" height="10.26" fill="#fbbcbc"/>
<rect x="219.06" y="431.62" width="1.70" height="10.26" fill="#1616bb"/>
<rect x="220.73" y="431.62" width="2.54" height="10.26" fill="#ffc1c1"/>
<rect x="223.22" y="431.62" width="6.70" height="10.26" fill="#f7a7a7"/>
<rect x="229.88" y="431.62" width="2.54" height="10.26" fill="#f7b8b8"/>
<rect x="232.38" y="431.62" width="2.54" height="10.26" fill="#fbf8ff"/>
<rect x="234.87" y="431.62" width="5.03" height="10.26" fill="#fcacac"/>
<rect x="239.87" y="431.62" width="3.37" height="10.26" fill="#f8b9b9"/>
<rect x="243.19" y="431.62" width="2.54" height="10.26" fill="#f68080"/>
<rect x="245.69" y="431.62" width="2.54" height="10.26" fill="#f7b8b8"/>
<rect x="248.19" y="431.62" width="5.03" height="10.26" fill="#fcacac"/>
<rect x="253.18" y="431.62" width="3.37" height="10.26" fill="#ffc3c3"/>
<rect x="256.51" y="431.62" width="3.37" height="10.26" fill="#fa8484"/>
<rect x="259.84" y="431.62" width="3.80" height="10.26" fill="#ffc0c0"/>
<rect x="38.60" y="441.84" width="1.09" height="10.26" fill="#fabbbb"/>
<rect x="39.65" y="441.84" width="2.51" height="10.26" fill="#f47e7e"/>
<rect x="42.12" y="441.84" width="3.34" height="10.26" fill="#bcc0ea"/>
<rect x="45.42" y="441.84" width="2.51" height="10.26" fill="#f9f6fd"/>
<rect x="47.90" y="441.84" width="2.51" height="10.26" fill="#fdbebe"/>
<rect x="50.37" y="441.84" width="3.34" height="10.26" fill="#c3c7f1"/>
<rect x="53.67" y="441.84" width="1.69" height="10.26" fill="#9da1e2"/>
<rect x="55.32" y="441.84" width="3.34" height="10.26" fill="#f27c7c"/>
<rect x="58.62" y="441.84" width="2.51" height="10.26" fill="#ffc1c1"/>
<rect x="61.09" y="441.84" width="1.69" height="10.26" fill="#c5c9f3"/>
<rect x="62.74" y="441.84" width="2.51" height="10.26" fill="#faf7fe"/>
<rect x="65.22" y="441.84" width="2.51" height="10.26" fill="#ffc1c1"/>
<rect x="67.69" y="441.84" width="10.76" height="10.26" fill="#a3a7e8"/>
<rect x="78.42" y="441.84" width="1.69" height="10.26" fill="#c2c6f0"/>
<rect x="80.07" y="441.84" width="2.51" height="10.26" fill="#f2eff6"/>
<rect x="82.54" y="441.84" width="1.69" height="10.26" fill="#fdbebe"/>
<rect x="84.19" y="441.84" width="1.69" height="10.26" fill="#f47e7e"/>
<rect x="85.84" y="441.84" width="1.69" height="10.26" fill="#f7b8b8"/>
<rect x="87.49" y="441.84" width="3.34" height="10.26" fill="#babee8"/>
<rect x="90.79" y="441.84" width="3.34" height="10.26" fill="#fabbbb"/>
<rect x="94.09" y="441.84" width="9.94" height="10.26" fill="#9da1e2"/>
<rect x="103.98" y="441.84" width="3.34" height="10.26" fill="#f88282"/>
<rect x="107.28" y="441.84" width="3.34" height="10.26" fill="#f83737"/>
<rect x="110.58" y="441.84" width="2.51" height="10.26" fill="#fcbdbd"/>
<rect x="113.06" y="441.84" width="3.34" height="10.26" fill="#a5a9ea"/>
<rect x="116.36" y="441.84" width="2.51" height="10.26" fill="#c5c9f3"/>
<rect x="118.83" y="441.84" width="2.51" height="10.26" fill="#fbf8ff"/>
<rect x="121.31" y="441.84" width="2.51" height="10.26" fill="#bec2ec"/>
<rect x="123.78" y="441.84" width="3.34" height="10.26" fill="#f9baba"/>
<rect x="127.08" y="441.84" width="2.51" height="10.26" fill="#f27c7c"/>
<rect x="129.55" y="441.84" width="2.51" height="10.26" fill="#bcc0ea"/>
<rect x="132.03" y="441.84" width="3.34" height="10.26" fill="#9ca0e1"/>
<rect x="135.33" y="441.84" width="2.51" height="10.26" fill="#febfbf"/>
<rect x="137.80" y="441.84" width="3.34" height="10.26" fill="#c4c8f2"/>
<rect x="141.10" y="441.84" width="3.34" height="10.26" fill="#fa8484"/>
<rect x="144.40" y="441.84" width="2.51" height="10.26" fill="#f23131"/>
<rect x="146.87" y="441.84" width="3.67" height="10.26" fill="#febfbf"/>
<rect x="150.50" y="441.84" width="1.20" height="10.26" fill="#c3c7f1"/>
<rect x="151.66" y="441.84" width="1.70" height="10.26" fill="#9b9fe0"/>
<rect x="153.33" y="441.84" width="1.70" height="10.26" fill="#febfbf"/>
<rect x="154.99" y="441.84" width="2.54" height="10.26" fill="#c4c8f2"/>
<rect x="157.49" y="441.84" width="4.20" height="10.26" fill="#f9f6fd"/>
<rect x="161.65" y="441.84" width="8.36" height="10.26" fill="#a3a7e8"/>
<rect x="169.97" y="441.84" width="1.70" height="10.26" fill="#f5f2f9"/>
<rect x="171.63" y="441.84" width="2.54" height="10.26" fill="#bcc0ea"/>
<rect x="174.13" y="441.84" width="2.54" height="10.26" fill="#ffc1c1"/>
<rect x="176.63" y="441.84" width="2.54" height="10.26" fill="#f3f0f7"/>
<rect x="179.12" y="441.84" width="2.54" height="10.26" fill="#c3c7f1"/>
<rect x="181.62" y="441.84" width="1.70" height="10.26" fill="#f83737"/>
<rect x="183.28" y="441.84" width="2.54" height="10.26" fill="#fbbcbc"/>
<rect x="185.78" y="441.84" width="2.54" height="10.26" fill="#bec2ec"/>
<rect x="188.28" y="441.84" width="1.70" height="10.26" fill="#fb8585"/>
<rect x="189.94" y="441.84" width="2.54" height="10.26" fill="#ffc0c0"/>
<rect x="192.44" y="441.84" width="2.54" height="10.26" fill="#f27c7c"/>
<rect x="194.93" y="441.84" width="3.37" height="10.26" fill="#bbbfe9"/>
<rect x="198.26" y="441.84" width="3.37" height="10.26" fill="#9b9fe0"/>
<rect x="201.59" y="441.84" width="2.54" height="10.26" fill="#faf7fe"/>
<rect x="204.09" y="441.84" width="2.54" height="10.26" fill="#c3c7f1"/>
<rect x="206.58" y="441.84" width="2.54" height="10.26" fill="#f8b9b9"/>
<rect x="209.08" y="441.84" width="1.70" height="10.26" fill="#f63535"/>
<rect x="210.74" y="441.84" width="1.70" height="10.26" fill="#c5c9f3"/>
<rect x="212.41" y="441.84" width="2.54" height="10.26" fill="#f78181"/>
<rect x="214.90" y="441.84" width="1.70" height="10.26" fill="#f4f1f8"/>
<rect x="216.57" y="441.84" width="3.37" height="10.26" fill="#f68080"/>
<rect x="219.90" y="441.84" width="1.70" height="10.26" fill="#9b9fe0"/>
<rect x="221.56" y="441.84" width="1.70" height="10.26" fill="#babee8"/>
<rect x="223.22" y="441.84" width="2.54" height="10.26" fill="#fbf8ff"/>
<rect x="225.72" y="441.84" width="2.54" height="10.26" fill="#f78181"/>
<rect x="228.22" y="441.84" width="3.37" height="10.26" fill="#c0c4ee"/>
<rect x="231.54" y="441.84" width="2.54" height="10.26" fill="#a5a9ea"/>
<rect x="234.04" y="441.84" width="1.70" height="10.26" fill="#f57f7f"/>
<rect x="235.70" y="441.84" width="2.54" height="10.26" fill="#f73636"/>
<rect x="238.20" y="441.84" width="2.54" height="10.26" fill="#ffc1c1"/>
<rect x="240.70" y="441.84" width="2.54" height="10.26" fill="#f27c7c"/>
<rect x="243.19" y="441.84" width="2.54" height="10.26" fill="#bdc1eb"/>
<rect x="245.69" y="441.84" width="2.54" height="10.26" fill="#f37d7d"/>
<rect x="248.19" y="441.84" width="1.70" height="10.26" fill="#f9baba"/>
<rect x="249.85" y="441.84" width="2.54" height="10.26" fill="#a1a5e6"/>
<rect x="252.35" y="441.84" width="2.54" height="10.26" fill="#f02f2f"/>
<rect x="254.84" y="441.84" width="2.54" height="10.26" fill="#f57f7f"/>
<rect x="257.34" y="441.84" width="2.54" height="10.26" fill="#9b9fe0"/>
<rect x="259.84" y="441.84" width="3.80" height="10.26" fill="#ffc2c2"/>
<rect x="38.60" y="452.05" width="0.76" height="10.26" fill="#fbbcbc"/>
<rect x="39.32" y="452.05" width="0.86" height="10.26" fill="#f5f2f9"/>
<rect x="40.14" y="452.05" width="1.36" height="10.26" fill="#febfbf"/>
<rect x="41.46" y="452.05" width="1.36" height="10.26" fill="#faf7fe"/>
<rect x="42.78" y="452.05" width="1.85" height="10.26" fill="#fcbdbd"/>
<rect x="44.60" y="452.05" width="1.36" height="10.26" fill="#4b50d2"/>
<rect x="45.92" y="452.05" width="0.86" height="10.26" fill="#c0c4ee"/>
<rect x="46.74" y="452.05" width="1.36" height="10.26" fill="#f6f3fa"/>
<rect x="48.06" y="452.05" width="2.18" height="10.26" fill="#464bcd"/>
<rect x="50.21" y="452.05" width="1.03" height="10.26" fill="#babee8"/>
<rect x="51.20" y="452.05" width="1.36" height="10.26" fill="#f5f2f9"/>
<rect x="52.52" y="452.05" width="1.36" height="10.26" fill="#bcc0ea"/>
<rect x="53.84" y="452.05" width="1.69" height="10.26" fill="#f0edf4"/>
<rect x="55.49" y="452.05" width="1.36" height="10.26" fill="#ffc1c1"/>
<rect x="56.81" y="452.05" width="2.18" height="10.26" fill="#bcc0ea"/>
<rect x="58.95" y="452.05" width="3.17" height="10.26" fill="#f5f2f9"/>
<rect x="62.08" y="452.05" width="3.17" height="10.26" fill="#a2a6e7"/>
<rect x="65.22" y="452.05" width="1.36" height="10.26" fill="#c0c4ee"/>
<rect x="66.54" y="452.05" width="3.01" height="10.26" fill="#fabbbb"/>
<rect x="69.51" y="452.05" width="1.36" height="10.26" fill="#f6f3fa"/>
<rect x="70.83" y="452.05" width="2.18" height="10.26" fill="#a0a4e5"/>
<rect x="72.97" y="452.05" width="1.36" height="10.26" fill="#c3c7f1"/>
<rect x="74.29" y="452.05" width="1.03" height="10.26" fill="#f1eef5"/>
<rect x="75.28" y="452.05" width="1.69" height="10.26" fill="#c0c4ee"/>
<rect x="76.93" y="452.05" width="1.36" height="10.26" fill="#f9baba"/>
<rect x="78.25" y="452.05" width="1.36" height="10.26" fill="#4348ca"/>
<rect x="79.57" y="452.05" width="1.36" height="10.26" fill="#c3c7f1"/>
<rect x="80.89" y="452.05" width="1.85" height="10.26" fill="#f6f3fa"/>
<rect x="82.70" y="452.05" width="2.18" height="10.26" fill="#fdbebe"/>
<rect x="84.85" y="452.05" width="3.17" height="10.26" fill="#1c1cc1"/>
<rect x="87.98" y="452.05" width="1.69" height="10.26" fill="#a4a8e9"/>
<rect x="89.63" y="452.05" width="3.17" height="10.26" fill="#1818bd"/>
<rect x="92.77" y="452.05" width="5.32" height="10.26" fill="#f7f4fb"/>
<rect x="98.05" y="452.05" width="2.68" height="10.26" fill="#f68080"/>
<rect x="100.69" y="452.05" width="1.69" height="10.26" fill="#a0a4e5"/>
<rect x="102.34" y="452.05" width="3.34" height="10.26" fill="#ffc0c0"/>
<rect x="105.63" y="452.05" width="2.51" height="10.26" fill="#f5f2f9"/>
<rect x="108.11" y="452.05" width="1.69" height="10.26" fill="#fdbebe"/>
<rect x="109.76" y="452.05" width="2.51" height="10.26" fill="#f57f7f"/>
<rect x="112.23" y="452.05" width="1.69" height="10.26" fill="#ffc3c3"/>
<rect x="113.88" y="452.05" width="2.51" height="10.26" fill="#c2c6f0"/>
<rect x="116.36" y="452.05" width="2.51" height="10.26" fill="#faf7fe"/>
<rect x="118.83" y="452.05" width="2.51" height="10.26" fill="#ffc3c3"/>
<rect x="121.31" y="452.05" width="2.51" height="10.26" fill="#bdc1eb"/>
<rect x="123.78" y="452.05" width="2.51" height="10.26" fill="#f6f3fa"/>
<rect x="126.25" y="452.05" width="1.69" height="10.26" fill="#c5c9f3"/>
<rect x="127.90" y="452.05" width="1.69" height="10.26" fill="#faf7fe"/>
<rect x="129.55" y="452.05" width="3.34" height="10.26" fill="#f8b9b9"/>
<rect x="132.85" y="452.05" width="2.51" height="10.26" fill="#bbbfe9"/>
<rect x="135.33" y="452.05" width="1.69" height="10.26" fill="#f5f2f9"/>
<rect x="136.98" y="452.05" width="2.51" height="10.26" fill="#f7b8b8"/>
<rect x="139.45" y="452.05" width="2.51" height="10.26" fill="#f27c7c"/>
<rect x="141.93" y="452.05" width="2.51" height="10.26" fill="#babee8"/>
<rect x="144.40" y="452.05" width="2.51" height="10.26" fill="#ffc0c0"/>
<rect x="146.87" y="452.05" width="3.67" height="10.26" fill="#c3c7f1"/>
<rect x="150.50" y="452.05" width="1.20" height="10.26" fill="#a4a8e9"/>
<rect x="151.66" y="452.05" width="2.54" height="10.26" fill="#f1eef5"/>
<rect x="154.16" y="452.05" width="2.54" height="10.26" fill="#c2c6f0"/>
<rect x="156.66" y="452.05" width="2.54" height="10.26" fill="#f7f4fb"/>
<rect x="159.15" y="452.05" width="2.54" height="10.26" fill="#bbbfe9"/>
<rect x="161.65" y="452.05" width="1.70" height="10.26" fill="#1d1dc2"/>
<rect x="163.31" y="452.05" width="2.54" height="10.26" fill="#ffc3c3"/>
<rect x="165.81" y="452.05" width="2.54" height="10.26" fill="#f27c7c"/>
<rect x="168.31" y="452.05" width="2.54" height="10.26" fill="#ffc3c3"/>
<rect x="170.80" y="452.05" width="2.54" height="10.26" fill="#1717bc"/>
<rect x="173.30" y="452.05" width="2.54" height="10.26" fill="#f5f2f9"/>
<rect x="175.79" y="452.05" width="1.70" height="10.26" fill="#c5c9f3"/>
<rect x="177.46" y="452.05" width="1.70" height="10.26" fill="#1c1cc1"/>
<rect x="179.12" y="452.05" width="2.54" height="10.26" fill="#f8b9b9"/>
<rect x="181.62" y="452.05" width="2.54" height="10.26" fill="#f5f2f9"/>
<rect x="184.12" y="452.05" width="1.70" height="10.26" fill="#1919be"/>
<rect x="185.78" y="452.05" width="2.54" height="10.26" fill="#fbbcbc"/>
<rect x="188.28" y="452.05" width="2.54" height="10.26" fill="#f27c7c"/>
<rect x="190.77" y="452.05" width="2.54" height="10.26" fill="#fabbbb"/>
<rect x="193.27" y="452.05" width="3.37" height="10.26" fill="#f8f5fc"/>
<rect x="196.60" y="452.05" width="2.54" height="10.26" fill="#f7b8b8"/>
<rect x="199.09" y="452.05" width="2.54" height="10.26" fill="#c0c4ee"/>
<rect x="201.59" y="452.05" width="2.54" height="10.26" fill="#f5f2f9"/>
<rect x="204.09" y="452.05" width="2.54" height="10.26" fill="#f7b8b8"/>
<rect x="206.58" y="452.05" width="3.37" height="10.26" fill="#f3f0f7"/>
<rect x="209.91" y="452.05" width="3.37" height="10.26" fill="#febfbf"/>
<rect x="213.24" y="452.05" width="2.54" height="10.26" fill="#f68080"/>
<rect x="215.73" y="452.05" width="2.54" height="10.26" fill="#f7b8b8"/>
<rect x="218.23" y="452.05" width="2.54" height="10.26" fill="#fb8585"/>
<rect x="220.73" y="452.05" width="2.54" height="10.26" fill="#f63535"/>
<rect x="223.22" y="452.05" width="2.54" height="10.26" fill="#ffc3c3"/>
<rect x="225.72" y="452.05" width="1.70" height="10.26" fill="#bbbfe9"/>
<rect x="227.38" y="452.05" width="1.70" height="10.26" fill="#1616bb"/>
<rect x="229.05" y="452.05" width="2.54" height="10.26" fill="#f7b8b8"/>
<rect x="231.54" y="452.05" width="2.54" height="10.26" fill="#f98383"/>
<rect x="234.04" y="452.05" width="2.54" height="10.26" fill="#fabbbb"/>
<rect x="236.54" y="452.05" width="2.54" height="10.26" fill="#bbbfe9"/>
<rect x="239.03" y="452.05" width="2.54" height="10.26" fill="#f57f7f"/>
<rect x="241.53" y="452.05" width="2.54" height="10.26" fill="#ffc2c2"/>
<rect x="244.03" y="452.05" width="2.54" height="10.26" fill="#f98383"/>
<rect x="246.52" y="452.05" width="2.54" height="10.26" fill="#fabbbb"/>
<rect x="249.02" y="452.05" width="2.54" height="10.26" fill="#bbbfe9"/>
<rect x="251.51" y="452.05" width="2.54" height="10.26" fill="#fb8585"/>
<rect x="254.01" y="452.05" width="2.20" height="10.26" fill="#1919be"/>
<rect x="256.17" y="452.05" width="2.04" height="10.26" fill="#ffc0c0"/>
<rect x="258.17" y="452.05" width="2.54" height="10.26" fill="#ee2d2d"/>
<rect x="260.67" y="452.05" width="2.97" height="10.26" fill="#f07a7a"/>
<rect x="38.60" y="462.27" width="2.90" height="10.26" fill="#f53434"/>
<rect x="41.46" y="462.27" width="1.85" height="10.26" fill="#f57f7f"/>
<rect x="43.28" y="462.27" width="1.36" height="10.26" fill="#ed2c2c"/>
<rect x="44.60" y="462.27" width="0.86" height="10.26" fill="#ffc3c3"/>
<rect x="45.42" y="462.27" width="1.36" height="10.26" fill="#f78181"/>
<rect x="46.74" y="462.27" width="1.36" height="10.26" fill="#ffc1c1"/>
<rect x="48.06" y="462.27" width="0.86" height="10.26" fill="#f17b7b"/>
<rect x="48.89" y="462.27" width="1.85" height="10.26" fill="#f73636"/>
<rect x="50.70" y="462.27" width="1.36" height="10.26" fill="#f7b8b8"/>
<rect x="52.02" y="462.27" width="2.68" height="10.26" fill="#fa8484"/>
<rect x="54.66" y="462.27" width="1.69" height="10.26" fill="#fcbdbd"/>
<rect x="56.31" y="462.27" width="2.68" height="10.26" fill="#f47e7e"/>
<rect x="58.95" y="462.27" width="2.68" height="10.26" fill="#f6f3fa"/>
<rect x="61.59" y="462.27" width="2.68" height="10.26" fill="#ffc3c3"/>
<rect x="64.23" y="462.27" width="2.68" height="10.26" fill="#bdc1eb"/>
<rect x="66.87" y="462.27" width="1.36" height="10.26" fill="#f8b9b9"/>
<rect x="68.19" y="462.27" width="1.85" height="10.26" fill="#f6f3fa"/>
<rect x="70.00" y="462.27" width="1.69" height="10.26" fill="#bcc0ea"/>
<rect x="71.65" y="462.27" width="3.17" height="10.26" fill="#f17b7b"/>
<rect x="74.79" y="462.27" width="1.85" height="10.26" fill="#f8b9b9"/>
<rect x="76.60" y="462.27" width="1.69" height="10.26" fill="#f0edf4"/>
<rect x="78.25" y="462.27" width="1.36" height="10.26" fill="#f27c7c"/>
<rect x="79.57" y="462.27" width="1.36" height="10.26" fill="#fabbbb"/>
<rect x="80.89" y="462.27" width="2.68" height="10.26" fill="#f3f0f7"/>
<rect x="83.53" y="462.27" width="1.36" height="10.26" fill="#c3c7f1"/>
<rect x="84.85" y="462.27" width="1.36" height="10.26" fill="#f02f2f"/>
<rect x="86.17" y="462.27" width="1.85" height="10.26" fill="#fdbebe"/>
<rect x="87.98" y="462.27" width="1.69" height="10.26" fill="#bcc0ea"/>
<rect x="89.63" y="462.27" width="1.85" height="10.26" fill="#fbbcbc"/>
<rect x="91.45" y="462.27" width="2.18" height="10.26" fill="#f07a7a"/>
<rect x="93.59" y="462.27" width="2.18" height="10.26" fill="#fabbbb"/>
<rect x="95.74" y="462.27" width="2.35" height="10.26" fill="#f07a7a"/>
<rect x="98.05" y="462.27" width="1.03" height="10.26" fill="#c2c6f0"/>
<rect x="99.04" y="462.27" width="1.69" height="10.26" fill="#a0a4e5"/>
<rect x="100.69" y="462.27" width="2.51" height="10.26" fill="#f9baba"/>
<rect x="103.16" y="462.27" width="1.69" height="10.26" fill="#f5f2f9"/>
<rect x="104.81" y="462.27" width="2.51" height="10.26" fill="#fb8585"/>
<rect x="107.28" y="462.27" width="3.34" height="10.26" fill="#ee2d2d"/>
<rect x="110.58" y="462.27" width="1.69" height="10.26" fill="#f98383"/>
<rect x="112.23" y="462.27" width="2.51" height="10.26" fill="#fcbdbd"/>
<rect x="114.71" y="462.27" width="2.51" height="10.26" fill="#bfc3ed"/>
<rect x="117.18" y="462.27" width="2.51" height="10.26" fill="#a4a8e9"/>
<rect x="119.66" y="462.27" width="2.51" height="10.26" fill="#bec2ec"/>
<rect x="122.13" y="462.27" width="2.51" height="10.26" fill="#f6f3fa"/>
<rect x="124.61" y="462.27" width="3.34" height="10.26" fill="#ffc0c0"/>
<rect x="127.90" y="462.27" width="2.51" height="10.26" fill="#fb8585"/>
<rect x="130.38" y="462.27" width="2.51" height="10.26" fill="#bec2ec"/>
<rect x="132.85" y="462.27" width="3.34" height="10.26" fill="#a3a7e8"/>
<rect x="136.15" y="462.27" width="2.51" height="10.26" fill="#c2c6f0"/>
<rect x="138.63" y="462.27" width="2.51" height="10.26" fill="#f7f4fb"/>
<rect x="141.10" y="462.27" width="2.51" height="10.26" fill="#bec2ec"/>
<rect x="143.58" y="462.27" width="3.34" height="10.26" fill="#9ea2e3"/>
<rect x="146.87" y="462.27" width="3.67" height="10.26" fill="#babee8"/>
<rect x="150.50" y="462.27" width="1.20" height="10.26" fill="#bbbfe9"/>
<rect x="151.66" y="462.27" width="1.70" height="10.26" fill="#f7b8b8"/>
<rect x="153.33" y="462.27" width="2.54" height="10.26" fill="#c2c6f0"/>
<rect x="155.82" y="462.27" width="2.54" height="10.26" fill="#fabbbb"/>
<rect x="158.32" y="462.27" width="2.54" height="10.26" fill="#f1eef5"/>
<rect x="160.82" y="462.27" width="4.20" height="10.26" fill="#9b9fe0"/>
<rect x="164.98" y="462.27" width="3.37" height="10.26" fill="#c4c8f2"/>
<rect x="168.31" y="462.27" width="2.54" height="10.26" fill="#ffc2c2"/>
<rect x="170.80" y="462.27" width="2.54" height="10.26" fill="#a2a6e7"/>
<rect x="173.30" y="462.27" width="3.37" height="10.26" fill="#bdc1eb"/>
<rect x="176.63" y="462.27" width="2.54" height="10.26" fill="#f9baba"/>
<rect x="179.12" y="462.27" width="1.70" height="10.26" fill="#f3f0f7"/>
<rect x="180.79" y="462.27" width="2.54" height="10.26" fill="#bfc3ed"/>
<rect x="183.28" y="462.27" width="2.54" height="10.26" fill="#f8b9b9"/>
<rect x="185.78" y="462.27" width="2.54" height="10.26" fill="#bfc3ed"/>
<rect x="188.28" y="462.27" width="16.68" height="10.26" fill="#9da1e2"/>
<rect x="204.92" y="462.27" width="2.54" height="10.26" fill="#c5c9f3"/>
<rect x="207.41" y="462.27" width="3.37" height="10.26" fill="#a5a9ea"/>
<rect x="210.74" y="462.27" width="2.54" height="10.26" fill="#f6f3fa"/>
<rect x="213.24" y="462.27" width="2.54" height="10.26" fill="#bcc0ea"/>
<rect x="215.73" y="462.27" width="3.37" height="10.26" fill="#a5a9ea"/>
<rect x="219.06" y="462.27" width="2.54" height="10.26" fill="#bdc1eb"/>
<rect x="221.56" y="462.27" width="2.54" height="10.26" fill="#9ea2e3"/>
<rect x="224.06" y="462.27" width="3.37" height="10.26" fill="#babee8"/>
<rect x="227.38" y="462.27" width="2.54" height="10.26" fill="#9ea2e3"/>
<rect x="229.88" y="462.27" width="3.37" height="10.26" fill="#bfc3ed"/>
<rect x="233.21" y="462.27" width="3.37" height="10.26" fill="#a0a4e5"/>
<rect x="236.54" y="462.27" width="3.37" height="10.26" fill="#bcc0ea"/>
<rect x="239.87" y="462.27" width="3.37" height="10.26" fill="#a0a4e5"/>
<rect x="243.19" y="462.27" width="3.37" height="10.26" fill="#babee8"/>
<rect x="246.52" y="462.27" width="3.37" height="10.26" fill="#9da1e2"/>
<rect x="249.85" y="462.27" width="2.54" height="10.26" fill="#bbbfe9"/>
<rect x="252.35" y="462.27" width="2.54" height="10.26" fill="#f4f1f8"/>
<rect x="254.84" y="462.27" width="2.54" height="10.26" fill="#babee8"/>
<rect x="257.34" y="462.27" width="3.37" height="10.26" fill="#f0edf4"/>
<rect x="260.67" y="462.27" width="2.97" height="10.26" fill="#bdc1eb"/>
<rect x="38.60" y="472.49" width="1.09" height="10.26" fill="#bcc0ea"/>
<rect x="39.65" y="472.49" width="1.69" height="10.26" fill="#febfbf"/>
<rect x="41.30" y="472.49" width="2.51" height="10.26" fill="#f68080"/>
<rect x="43.77" y="472.49" width="2.51" height="10.26" fill="#c3c7f1"/>
<rect x="46.25" y="472.49" width="1.69" height="10.26" fill="#f7f4fb"/>
<rect x="47.90" y="472.49" width="1.69" height="10.26" fill="#c2c6f0"/>
<rect x="49.55" y="472.49" width="1.69" height="10.26" fill="#faf7fe"/>
<rect x="51.20" y="472.49" width="3.34" height="10.26" fill="#bec2ec"/>
<rect x="54.50" y="472.49" width="2.51" height="10.26" fill="#fabbbb"/>
<rect x="56.97" y="472.49" width="4.16" height="10.26" fill="#fbf8ff"/>
<rect x="61.09" y="472.49" width="2.51" height="10.26" fill="#f8b9b9"/>
<rect x="63.57" y="472.49" width="2.51" height="10.26" fill="#c2c6f0"/>
<rect x="66.04" y="472.49" width="2.51" height="10.26" fill="#a1a5e6"/>
<rect x="68.52" y="472.49" width="2.51" height="10.26" fill="#babee8"/>
<rect x="70.99" y="472.49" width="2.51" height="10.26" fill="#ffc2c2"/>
<rect x="73.47" y="472.49" width="1.69" height="10.26" fill="#c4c8f2"/>
<rect x="75.12" y="472.49" width="3.34" height="10.26" fill="#a1a5e6"/>
<rect x="78.42" y="472.49" width="1.69" height="10.26" fill="#ffc0c0"/>
<rect x="80.07" y="472.49" width="2.51" height="10.26" fill="#f98383"/>
<rect x="82.54" y="472.49" width="2.51" height="10.26" fill="#bbbfe9"/>
<rect x="85.01" y="472.49" width="2.51" height="10.26" fill="#a0a4e5"/>
<rect x="87.49" y="472.49" width="1.69" height="10.26" fill="#c0c4ee"/>
<rect x="89.14" y="472.49" width="1.69" height="10.26" fill="#fa8484"/>
<rect x="90.79" y="472.49" width="3.34" height="10.26" fill="#ffc1c1"/>
<rect x="94.09" y="472.49" width="2.51" height="10.26" fill="#a3a7e8"/>
<rect x="96.56" y="472.49" width="2.51" height="10.26" fill="#f78181"/>
<rect x="99.04" y="472.49" width="2.51" height="10.26" fill="#c4c8f2"/>
<rect x="101.51" y="472.49" width="2.51" height="10.26" fill="#a2a6e7"/>
<rect x="103.98" y="472.49" width="1.69" height="10.26" fill="#f88282"/>
<rect x="105.63" y="472.49" width="1.69" height="10.26" fill="#ef2e2e"/>
<rect x="107.28" y="472.49" width="3.34" height="10.26" fill="#9a9edf"/>
<rect x="110.58" y="472.49" width="2.51" height="10.26" fill="#bbbfe9"/>
<rect x="113.06" y="472.49" width="2.51" height="10.26" fill="#9ea2e3"/>
<rect x="115.53" y="472.49" width="2.51" height="10.26" fill="#f8b9b9"/>
<rect x="118.01" y="472.49" width="2.51" height="10.26" fill="#a4a8e9"/>
<rect x="120.48" y="472.49" width="3.34" height="10.26" fill="#c0c4ee"/>
<rect x="123.78" y="472.49" width="3.34" height="10.26" fill="#a1a5e6"/>
<rect x="127.08" y="472.49" width="2.51" height="10.26" fill="#c1c5ef"/>
<rect x="129.55" y="472.49" width="2.51" height="10.26" fill="#f88282"/>
<rect x="132.03" y="472.49" width="2.51" height="10.26" fill="#9fa3e4"/>
<rect x="134.50" y="472.49" width="2.51" height="10.26" fill="#babee8"/>
<rect x="136.98" y="472.49" width="2.51" height="10.26" fill="#ffc1c1"/>
<rect x="139.45" y="472.49" width="4.16" height="10.26" fill="#f88282"/>
<rect x="143.58" y="472.49" width="2.51" height="10.26" fill="#c0c4ee"/>
<rect x="146.05" y="472.49" width="4.49" height="10.26" fill="#a0a4e5"/>
<rect x="150.50" y="472.49" width="2.04" height="10.26" fill="#c1c5ef"/>
<rect x="152.50" y="472.49" width="2.54" height="10.26" fill="#f07a7a"/>
<rect x="154.99" y="472.49" width="1.70" height="10.26" fill="#f53434"/>
<rect x="156.66" y="472.49" width="2.54" height="10.26" fill="#bdc1eb"/>
<rect x="159.15" y="472.49" width="2.54" height="10.26" fill="#f7b8b8"/>
<rect x="161.65" y="472.49" width="1.70" height="10.26" fill="#bdc1eb"/>
<rect x="163.31" y="472.49" width="1.70" height="10.26" fill="#f88282"/>
<rect x="164.98" y="472.49" width="3.37" height="10.26" fill="#bcc0ea"/>
<rect x="168.31" y="472.49" width="2.54" height="10.26" fill="#ffc0c0"/>
<rect x="170.80" y="472.49" width="2.54" height="10.26" fill="#c5c9f3"/>
<rect x="173.30" y="472.49" width="2.54" height="10.26" fill="#fcbdbd"/>
<rect x="175.79" y="472.49" width="1.70" height="10.26" fill="#bec2ec"/>
<rect x="177.46" y="472.49" width="2.54" height="10.26" fill="#9fa3e4"/>
<rect x="179.96" y="472.49" width="1.70" height="10.26" fill="#f53434"/>
<rect x="181.62" y="472.49" width="2.54" height="10.26" fill="#a3a7e8"/>
<rect x="184.12" y="472.49" width="3.37" height="10.26" fill="#c1c5ef"/>
<rect x="187.44" y="472.49" width="2.54" height="10.26" fill="#febfbf"/>
<rect x="189.94" y="472.49" width="2.54" height="10.26" fill="#9a9edf"/>
<rect x="192.44" y="472.49" width="2.54" height="10.26" fill="#bbbfe9"/>
<rect x="194.93" y="472.49" width="2.54" height="10.26" fill="#f37d7d"/>
<rect x="197.43" y="472.49" width="2.54" height="10.26" fill="#ffc0c0"/>
<rect x="199.93" y="472.49" width="5.03" height="10.26" fill="#bdc1eb"/>
<rect x="204.92" y="472.49" width="2.54" height="10.26" fill="#fdbebe"/>
<rect x="207.41" y="472.49" width="2.54" height="10.26" fill="#babee8"/>
<rect x="209.91" y="472.49" width="1.70" height="10.26" fill="#f0edf4"/>
<rect x="211.57" y="472.49" width="2.54" height="10.26" fill="#9da1e2"/>
<rect x="214.07" y="472.49" width="2.54" height="10.26" fill="#c2c6f0"/>
<rect x="216.57" y="472.49" width="2.54" height="10.26" fill="#f88282"/>
<rect x="219.06" y="472.49" width="2.54" height="10.26" fill="#ffc0c0"/>
<rect x="221.56" y="472.49" width="2.54" height="10.26" fill="#f37d7d"/>
<rect x="224.06" y="472.49" width="2.54" height="10.26" fill="#c0c4ee"/>
<rect x="226.55" y="472.49" width="3.37" height="10.26" fill="#f57f7f"/>
<rect x="229.88" y="472.49" width="2.54" height="10.26" fill="#fcbdbd"/>
<rect x="232.38" y="472.49" width="2.54" height="10.26" fill="#f17b7b"/>
<rect x="234.87" y="472.49" width="2.54" height="10.26" fill="#a4a8e9"/>
<rect x="237.37" y="472.49" width="2.54" height="10.26" fill="#bcc0ea"/>
<rect x="239.87" y="472.49" width="2.54" height="10.26" fill="#fb8585"/>
<rect x="242.36" y="472.49" width="2.54" height="10.26" fill="#c5c9f3"/>
<rect x="244.86" y="472.49" width="1.70" height="10.26" fill="#f0edf4"/>
<rect x="246.52" y="472.49" width="3.37" height="10.26" fill="#9fa3e4"/>
<rect x="249.85" y="472.49" width="3.37" height="10.26" fill="#c3c7f1"/>
<rect x="253.18" y="472.49" width="8.36" height="10.26" fill="#f83737"/>
<rect x="261.50" y="472.49" width="2.14" height="10.26" fill="#fcbdbd"/>
<rect x="38.60" y="482.71" width="1.58" height="10.26" fill="#1616bb"/>
<rect x="40.14" y="482.71" width="2.68" height="10.26" fill="#bcc0ea"/>
<rect x="42.78" y="482.71" width="4.82" height="10.26" fill="#fbf8ff"/>
<rect x="47.57" y="482.71" width="2.35" height="10.26" fill="#4247c9"/>
<rect x="49.88" y="482.71" width="0.86" height="10.26" fill="#c0c4ee"/>
<rect x="50.70" y="482.71" width="2.18" height="10.26" fill="#4146c8"/>
<rect x="52.85" y="482.71" width="1.03" height="10.26" fill="#f6f3fa"/>
<rect x="53.84" y="482.71" width="2.18" height="10.26" fill="#1e1ec3"/>
<rect x="55.98" y="482.71" width="3.01" height="10.26" fill="#f1eef5"/>
<rect x="58.95" y="482.71" width="2.68" height="10.26" fill="#c3c7f1"/>
<rect x="61.59" y="482.71" width="1.85" height="10.26" fill="#a0a4e5"/>
<rect x="63.40" y="482.71" width="3.50" height="10.26" fill="#4a4fd1"/>
<rect x="66.87" y="482.71" width="1.36" height="10.26" fill="#c2c6f0"/>
<rect x="68.19" y="482.71" width="2.18" height="10.26" fill="#f9baba"/>
<rect x="70.33" y="482.71" width="1.36" height="10.26" fill="#c4c8f2"/>
<rect x="71.65" y="482.71" width="1.85" height="10.26" fill="#f5f2f9"/>
<rect x="73.47" y="482.71" width="1.36" height="10.26" fill="#1313b8"/>
<rect x="74.79" y="482.71" width="1.85" height="10.26" fill="#babee8"/>
<rect x="76.60" y="482.71" width="1.69" height="10.26" fill="#f5f2f9"/>
<rect x="78.25" y="482.71" width="1.36" height="10.26" fill="#454acc"/>
<rect x="79.57" y="482.71" width="0.86" height="10.26" fill="#bdc1eb"/>
<rect x="80.40" y="482.71" width="2.68" height="10.26" fill="#f1eef5"/>
<rect x="83.03" y="482.71" width="1.85" height="10.26" fill="#fbbcbc"/>
<rect x="84.85" y="482.71" width="1.85" height="10.26" fill="#f3f0f7"/>
<rect x="86.66" y="482.71" width="1.19" height="10.26" fill="#c4c8f2"/>
<rect x="87.82" y="482.71" width="2.68" height="10.26" fill="#4045c7"/>
<rect x="90.46" y="482.71" width="1.03" height="10.26" fill="#c3c7f1"/>
<rect x="91.45" y="482.71" width="2.18" height="10.26" fill="#faf7fe"/>
<rect x="93.59" y="482.71" width="2.18" height="10.26" fill="#9b9fe0"/>
<rect x="95.74" y="482.71" width="1.52" height="10.26" fill="#fbf8ff"/>
<rect x="97.22" y="482.71" width="1.85" height="10.26" fill="#484dcf"/>
<rect x="99.04" y="482.71" width="1.85" height="10.26" fill="#c4c8f2"/>
<rect x="100.85" y="482.71" width="1.85" height="10.26" fill="#4348ca"/>
<rect x="102.67" y="482.71" width="1.19" height="10.26" fill="#bec2ec"/>
<rect x="103.82" y="482.71" width="2.68" height="10.26" fill="#f4f1f8"/>
<rect x="106.46" y="482.71" width="2.18" height="10.26" fill="#4b50d2"/>
<rect x="108.60" y="482.71" width="6.14" height="10.26" fill="#febfbf"/>
<rect x="114.71" y="482.71" width="2.35" height="10.26" fill="#4449cb"/>
<rect x="117.02" y="482.71" width="1.85" height="10.26" fill="#f5f2f9"/>
<rect x="118.83" y="482.71" width="1.36" height="10.26" fill="#fabbbb"/>
<rect x="120.15" y="482.71" width="2.51" height="10.26" fill="#f0edf4"/>
<rect x="122.63" y="482.71" width="1.36" height="10.26" fill="#bbbfe9"/>
<rect x="123.95" y="482.71" width="2.35" height="10.26" fill="#4a4fd1"/>
<rect x="126.25" y="482.71" width="0.86" height="10.26" fill="#bdc1eb"/>
<rect x="127.08" y="482.71" width="5.81" height="10.26" fill="#ffc3c3"/>
<rect x="132.85" y="482.71" width="1.69" height="10.26" fill="#f2eff6"/>
<rect x="134.50" y="482.71" width="1.85" height="10.26" fill="#fabbbb"/>
<rect x="136.32" y="482.71" width="0.86" height="10.26" fill="#f6f3fa"/>
<rect x="137.14" y="482.71" width="2.18" height="10.26" fill="#4247c9"/>
<rect x="139.29" y="482.71" width="1.36" height="10.26" fill="#f4f1f8"/>
<rect x="140.61" y="482.71" width="1.85" height="10.26" fill="#ffc3c3"/>
<rect x="142.42" y="482.71" width="1.85" height="10.26" fill="#faf7fe"/>
<rect x="144.24" y="482.71" width="2.02" height="10.26" fill="#c3c7f1"/>
<rect x="146.22" y="482.71" width="1.85" height="10.26" fill="#f7f4fb"/>
<rect x="148.03" y="482.71" width="2.18" height="10.26" fill="#1d1dc2"/>
<rect x="150.17" y="482.71" width="0.37" height="10.26" fill="#ffc3c3"/>
<rect x="150.50" y="482.71" width="1.20" height="10.26" fill="#c0c4ee"/>
<rect x="151.66" y="482.71" width="3.37" height="10.26" fill="#ffc0c0"/>
<rect x="154.99" y="482.71" width="4.20" height="10.26" fill="#f0edf4"/>
<rect x="159.15" y="482.71" width="3.37" height="10.26" fill="#ffc0c0"/>
<rect x="162.48" y="482.71" width="2.54" height="10.26" fill="#f5f2f9"/>
<rect x="164.98" y="482.71" width="2.54" height="10.26" fill="#c3c7f1"/>
<rect x="167.47" y="482.71" width="3.37" height="10.26" fill="#febfbf"/>
<rect x="170.80" y="482.71" width="2.54" height="10.26" fill="#f37d7d"/>
<rect x="173.30" y="482.71" width="2.54" height="10.26" fill="#f7b8b8"/>
<rect x="175.79" y="482.71" width="2.54" height="10.26" fill="#fbf8ff"/>
<rect x="178.29" y="482.71" width="1.70" height="10.26" fill="#bbbfe9"/>
<rect x="179.96" y="482.71" width="2.54" height="10.26" fill="#f57f7f"/>
<rect x="182.45" y="482.71" width="3.37" height="10.26" fill="#fbbcbc"/>
<rect x="185.78" y="482.71" width="2.54" height="10.26" fill="#f37d7d"/>
<rect x="188.28" y="482.71" width="2.54" height="10.26" fill="#f8f5fc"/>
<rect x="190.77" y="482.71" width="1.70" height="10.26" fill="#c5c9f3"/>
<rect x="192.44" y="482.71" width="2.54" height="10.26" fill="#f37d7d"/>
<rect x="194.93" y="482.71" width="2.54" height="10.26" fill="#f7f4fb"/>
<rect x="197.43" y="482.71" width="2.54" height="10.26" fill="#bdc1eb"/>
<rect x="199.93" y="482.71" width="2.54" height="10.26" fill="#f6f3fa"/>
<rect x="202.42" y="482.71" width="1.70" height="10.26" fill="#f47e7e"/>
<rect x="204.09" y="482.71" width="3.37" height="10.26" fill="#f9baba"/>
<rect x="207.41" y="482.71" width="2.54" height="10.26" fill="#f1eef5"/>
<rect x="209.91" y="482.71" width="2.54" height="10.26" fill="#f9baba"/>
<rect x="212.41" y="482.71" width="3.37" height="10.26" fill="#fa8484"/>
<rect x="215.73" y="482.71" width="1.70" height="10.26" fill="#1818bd"/>
<rect x="217.40" y="482.71" width="2.54" height="10.26" fill="#f2eff6"/>
<rect x="219.90" y="482.71" width="3.37" height="10.26" fill="#c4c8f2"/>
<rect x="223.22" y="482.71" width="3.37" height="10.26" fill="#ffc3c3"/>
<rect x="226.55" y="482.71" width="3.37" height="10.26" fill="#f57f7f"/>
<rect x="229.88" y="482.71" width="2.54" height="10.26" fill="#f8b9b9"/>
<rect x="232.38" y="482.71" width="2.54" height="10.26" fill="#bcc0ea"/>
<rect x="234.87" y="482.71" width="2.54" height="10.26" fill="#f1eef5"/>
<rect x="237.37" y="482.71" width="3.37" height="10.26" fill="#fbbcbc"/>
<rect x="240.70" y="482.71" width="2.54" height="10.26" fill="#f17b7b"/>
<rect x="243.19" y="482.71" width="2.54" height="10.26" fill="#f9baba"/>
<rect x="245.69" y="482.71" width="3.37" height="10.26" fill="#f3f0f7"/>
<rect x="249.02" y="482.71" width="2.54" height="10.26" fill="#f68080"/>
<rect x="251.51" y="482.71" width="3.37" height="10.26" fill="#f73636"/>
<rect x="254.84" y="482.71" width="1.70" height="10.26" fill="#f88282"/>
<rect x="256.51" y="482.71" width="2.54" height="10.26" fill="#1717bc"/>
<rect x="259.00" y="482.71" width="2.54" height="10.26" fill="#f47e7e"/>
<rect x="261.50" y="482.71" width="2.14" height="10.26" fill="#f33232"/>
<rect x="38.60" y="492.93" width="6.04" height="10.26" fill="#9ea2e3"/>
<rect x="44.60" y="492.93" width="3.34" height="10.26" fill="#bec2ec"/>
<rect x="47.90" y="492.93" width="2.51" height="10.26" fill="#9a9edf"/>
<rect x="50.37" y="492.93" width="2.51" height="10.26" fill="#bdc1eb"/>
<rect x="52.85" y="492.93" width="4.99" height="10.26" fill="#a5a9ea"/>
<rect x="57.80" y="492.93" width="2.51" height="10.26" fill="#ee2d2d"/>
<rect x="60.27" y="492.93" width="2.51" height="10.26" fill="#f6f3fa"/>
<rect x="62.74" y="492.93" width="2.51" height="10.26" fill="#c1c5ef"/>
<rect x="65.22" y="492.93" width="2.51" height="10.26" fill="#ffc2c2"/>
<rect x="67.69" y="492.93" width="3.34" height="10.26" fill="#bcc0ea"/>
<rect x="70.99" y="492.93" width="2.51" height="10.26" fill="#fabbbb"/>
<rect x="73.47" y="492.93" width="2.51" height="10.26" fill="#bcc0ea"/>
<rect x="75.94" y="492.93" width="2.51" height="10.26" fill="#9ea2e3"/>
<rect x="78.42" y="492.93" width="2.51" height="10.26" fill="#bfc3ed"/>
<rect x="80.89" y="492.93" width="2.51" height="10.26" fill="#fbf8ff"/>
<rect x="83.36" y="492.93" width="4.99" height="10.26" fill="#ffc2c2"/>
<rect x="88.31" y="492.93" width="2.51" height="10.26" fill="#c4c8f2"/>
<rect x="90.79" y="492.93" width="2.51" height="10.26" fill="#f07a7a"/>
<rect x="93.26" y="492.93" width="2.51" height="10.26" fill="#babee8"/>
<rect x="95.74" y="492.93" width="2.51" height="10.26" fill="#a2a6e7"/>
<rect x="98.21" y="492.93" width="2.51" height="10.26" fill="#c4c8f2"/>
<rect x="100.69" y="492.93" width="2.51" height="10.26" fill="#f57f7f"/>
<rect x="103.16" y="492.93" width="2.51" height="10.26" fill="#febfbf"/>
<rect x="105.63" y="492.93" width="1.69" height="10.26" fill="#f0edf4"/>
<rect x="107.28" y="492.93" width="2.51" height="10.26" fill="#bec2ec"/>
<rect x="109.76" y="492.93" width="2.51" height="10.26" fill="#ffc3c3"/>
<rect x="112.23" y="492.93" width="2.51" height="10.26" fill="#f98383"/>
<rect x="114.71" y="492.93" width="2.51" height="10.26" fill="#a4a8e9"/>
<rect x="117.18" y="492.93" width="2.51" height="10.26" fill="#c5c9f3"/>
<rect x="119.66" y="492.93" width="2.51" height="10.26" fill="#f9baba"/>
<rect x="122.13" y="492.93" width="3.34" height="10.26" fill="#f1eef5"/>
<rect x="125.43" y="492.93" width="2.51" height="10.26" fill="#f8b9b9"/>
<rect x="127.90" y="492.93" width="2.51" height="10.26" fill="#c0c4ee"/>
<rect x="130.38" y="492.93" width="2.51" height="10.26" fill="#a2a6e7"/>
<rect x="132.85" y="492.93" width="2.51" height="10.26" fill="#ffc3c3"/>
<rect x="135.33" y="492.93" width="2.51" height="10.26" fill="#c2c6f0"/>
<rect x="137.80" y="492.93" width="2.51" height="10.26" fill="#f7f4fb"/>
<rect x="140.28" y="492.93" width="3.34" height="10.26" fill="#f98383"/>
<rect x="143.58" y="492.93" width="3.34" height="10.26" fill="#f23131"/>
<rect x="146.87" y="492.93" width="3.67" height="10.26" fill="#fdbebe"/>
<rect x="150.50" y="492.93" width="1.20" height="10.26" fill="#9a9edf"/>
<rect x="151.66" y="492.93" width="1.70" height="10.26" fill="#c3c7f1"/>
<rect x="153.33" y="492.93" width="3.37" height="10.26" fill="#f27c7c"/>
<rect x="156.66" y="492.93" width="2.54" height="10.26" fill="#c5c9f3"/>
<rect x="159.15" y="492.93" width="2.54" height="10.26" fill="#a1a5e6"/>
<rect x="161.65" y="492.93" width="2.54" height="10.26" fill="#bdc1eb"/>
<rect x="164.15" y="492.93" width="2.54" height="10.26" fill="#f17b7b"/>
<rect x="166.64" y="492.93" width="2.54" height="10.26" fill="#fabbbb"/>
<rect x="169.14" y="492.93" width="2.54" height="10.26" fill="#f7f4fb"/>
<rect x="171.63" y="492.93" width="2.54" height="10.26" fill="#c2c6f0"/>
<rect x="174.13" y="492.93" width="2.54" height="10.26" fill="#f8b9b9"/>
<rect x="176.63" y="492.93" width="1.70" height="10.26" fill="#f0edf4"/>
<rect x="178.29" y="492.93" width="2.54" height="10.26" fill="#c0c4ee"/>
<rect x="180.79" y="492.93" width="2.54" height="10.26" fill="#f33232"/>
<rect x="183.28" y="492.93" width="2.54" height="10.26" fill="#bec2ec"/>
<rect x="185.78" y="492.93" width="2.54" height="10.26" fill="#f27c7c"/>
<rect x="188.28" y="492.93" width="2.54" height="10.26" fill="#febfbf"/>
<rect x="190.77" y="492.93" width="2.54" height="10.26" fill="#9a9edf"/>
<rect x="193.27" y="492.93" width="2.54" height="10.26" fill="#bdc1eb"/>
<rect x="195.76" y="492.93" width="2.54" height="10.26" fill="#fcbdbd"/>
<rect x="198.26" y="492.93" width="2.54" height="10.26" fill="#a5a9ea"/>
<rect x="200.76" y="492.93" width="2.54" height="10.26" fill="#c1c5ef"/>
<rect x="203.25" y="492.93" width="2.54" height="10.26" fill="#f73636"/>
<rect x="205.75" y="492.93" width="2.54" height="10.26" fill="#fcbdbd"/>
<rect x="208.25" y="492.93" width="2.54" height="10.26" fill="#bcc0ea"/>
<rect x="210.74" y="492.93" width="1.70" height="10.26" fill="#f2eff6"/>
<rect x="212.41" y="492.93" width="2.54" height="10.26" fill="#c5c9f3"/>
<rect x="214.90" y="492.93" width="2.54" height="10.26" fill="#a2a6e7"/>
<rect x="217.40" y="492.93" width="2.54" height="10.26" fill="#bdc1eb"/>
<rect x="219.90" y="492.93" width="2.54" height="10.26" fill="#9a9edf"/>
<rect x="222.39" y="492.93" width="2.54" height="10.26" fill="#f57f7f"/>
<rect x="224.89" y="492.93" width="2.54" height="10.26" fill="#ffc0c0"/>
<rect x="227.38" y="492.93" width="2.54" height="10.26" fill="#9fa3e4"/>
<rect x="229.88" y="492.93" width="2.54" height="10.26" fill="#bdc1eb"/>
<rect x="232.38" y="492.93" width="2.54" height="10.26" fill="#ffc0c0"/>
<rect x="234.87" y="492.93" width="2.54" height="10.26" fill="#fb8585"/>
<rect x="237.37" y="492.93" width="2.54" height="10.26" fill="#f9baba"/>
<rect x="239.87" y="492.93" width="2.54" height="10.26" fill="#babee8"/>
<rect x="242.36" y="492.93" width="2.54" height="10.26" fill="#f13030"/>
<rect x="244.86" y="492.93" width="2.54" height="10.26" fill="#fcbdbd"/>
<rect x="247.35" y="492.93" width="2.54" height="10.26" fill="#c2c6f0"/>
<rect x="249.85" y="492.93" width="2.54" height="10.26" fill="#9ca0e1"/>
<rect x="252.35" y="492.93" width="2.54" height="10.26" fill="#c3c7f1"/>
<rect x="254.84" y="492.93" width="2.54" height="10.26" fill="#f53434"/>
<rect x="257.34" y="492.93" width="2.54" height="10.26" fill="#f68080"/>
<rect x="259.84" y="492.93" width="3.80" height="10.26" fill="#f9baba"/>
<rect x="38.60" y="503.15" width="1.91" height="10.26" fill="#c5c9f3"/>
<rect x="40.47" y="503.15" width="2.51" height="10.26" fill="#9da1e2"/>
<rect x="42.95" y="503.15" width="1.69" height="10.26" fill="#ffc1c1"/>
<rect x="44.60" y="503.15" width="2.51" height="10.26" fill="#bcc0ea"/>
<rect x="47.07" y="503.15" width="3.34" height="10.26" fill="#9ca0e1"/>
<rect x="50.37" y="503.15" width="2.51" height="10.26" fill="#c3c7f1"/>
<rect x="52.85" y="503.15" width="2.51" height="10.26" fill="#9da1e2"/>
<rect x="55.32" y="503.15" width="2.51" height="10.26" fill="#c5c9f3"/>
<rect x="57.80" y="503.15" width="2.51" height="10.26" fill="#f5f2f9"/>
<rect x="60.27" y="503.15" width="2.51" height="10.26" fill="#bcc0ea"/>
<rect x="62.74" y="503.15" width="2.51" height="10.26" fill="#f2eff6"/>
<rect x="65.22" y="503.15" width="2.51" height="10.26" fill="#9fa3e4"/>
<rect x="67.69" y="503.15" width="2.51" height="10.26" fill="#c1c5ef"/>
<rect x="70.17" y="503.15" width="2.51" height="10.26" fill="#fbf8ff"/>
<rect x="72.64" y="503.15" width="2.51" height="10.26" fill="#9b9fe0"/>
<rect x="75.12" y="503.15" width="2.51" height="10.26" fill="#bec2ec"/>
<rect x="77.59" y="503.15" width="2.51" height="10.26" fill="#f2eff6"/>
<rect x="80.07" y="503.15" width="2.51" height="10.26" fill="#ffc3c3"/>
<rect x="82.54" y="503.15" width="2.51" height="10.26" fill="#f17b7b"/>
<rect x="85.01" y="503.15" width="2.51" height="10.26" fill="#babee8"/>
<rect x="87.49" y="503.15" width="2.51" height="10.26" fill="#f7b8b8"/>
<rect x="89.96" y="503.15" width="2.51" height="10.26" fill="#bec2ec"/>
<rect x="92.44" y="503.15" width="2.51" height="10.26" fill="#a4a8e9"/>
<rect x="94.91" y="503.15" width="2.51" height="10.26" fill="#faf7fe"/>
<rect x="97.39" y="503.15" width="2.51" height="10.26" fill="#c2c6f0"/>
<rect x="99.86" y="503.15" width="2.51" height="10.26" fill="#ffc3c3"/>
<rect x="102.34" y="503.15" width="2.51" height="10.26" fill="#a5a9ea"/>
<rect x="104.81" y="503.15" width="2.51" height="10.26" fill="#bdc1eb"/>
<rect x="107.28" y="503.15" width="2.51" height="10.26" fill="#f9baba"/>
<rect x="109.76" y="503.15" width="2.51" height="10.26" fill="#fbf8ff"/>
<rect x="112.23" y="503.15" width="2.51" height="10.26" fill="#c2c6f0"/>
<rect x="114.71" y="503.15" width="2.51" height="10.26" fill="#f07a7a"/>
<rect x="117.18" y="503.15" width="2.51" height="10.26" fill="#a1a5e6"/>
<rect x="119.66" y="503.15" width="2.51" height="10.26" fill="#bec2ec"/>
<rect x="122.13" y="503.15" width="2.51" height="10.26" fill="#f4f1f8"/>
<rect x="124.61" y="503.15" width="3.34" height="10.26" fill="#fabbbb"/>
<rect x="127.90" y="503.15" width="2.51" height="10.26" fill="#bcc0ea"/>
<rect x="130.38" y="503.15" width="2.51" height="10.26" fill="#9a9edf"/>
<rect x="132.85" y="503.15" width="2.51" height="10.26" fill="#fabbbb"/>
<rect x="135.33" y="503.15" width="2.51" height="10.26" fill="#bec2ec"/>
<rect x="137.80" y="503.15" width="2.51" height="10.26" fill="#fbf8ff"/>
<rect x="140.28" y="503.15" width="3.34" height="10.26" fill="#f8b9b9"/>
<rect x="143.58" y="503.15" width="2.51" height="10.26" fill="#c5c9f3"/>
<rect x="146.05" y="503.15" width="2.51" height="10.26" fill="#ef2e2e"/>
<rect x="148.52" y="503.15" width="2.02" height="10.26" fill="#fbbcbc"/>
<rect x="150.50" y="503.15" width="2.87" height="10.26" fill="#a3a7e8"/>
<rect x="153.33" y="503.15" width="2.54" height="10.26" fill="#c3c7f1"/>
<rect x="155.82" y="503.15" width="2.54" height="10.26" fill="#fcbdbd"/>
<rect x="158.32" y="503.15" width="2.54" height="10.26" fill="#f07a7a"/>
<rect x="160.82" y="503.15" width="2.54" height="10.26" fill="#fcbdbd"/>
<rect x="163.31" y="503.15" width="3.37" height="10.26" fill="#bec2ec"/>
<rect x="166.64" y="503.15" width="2.54" height="10.26" fill="#a5a9ea"/>
<rect x="169.14" y="503.15" width="2.54" height="10.26" fill="#bcc0ea"/>
<rect x="171.63" y="503.15" width="2.54" height="10.26" fill="#fbbcbc"/>
<rect x="174.13" y="503.15" width="2.54" height="10.26" fill="#c4c8f2"/>
<rect x="176.63" y="503.15" width="2.54" height="10.26" fill="#9a9edf"/>
<rect x="179.12" y="503.15" width="3.37" height="10.26" fill="#bec2ec"/>
<rect x="182.45" y="503.15" width="2.54" height="10.26" fill="#ffc1c1"/>
<rect x="184.95" y="503.15" width="2.54" height="10.26" fill="#f98383"/>
<rect x="187.44" y="503.15" width="2.54" height="10.26" fill="#f7b8b8"/>
<rect x="189.94" y="503.15" width="2.54" height="10.26" fill="#ed2c2c"/>
<rect x="192.44" y="503.15" width="2.54" height="10.26" fill="#f7b8b8"/>
<rect x="194.93" y="503.15" width="2.54" height="10.26" fill="#c5c9f3"/>
<rect x="197.43" y="503.15" width="2.54" height="10.26" fill="#9da1e2"/>
<rect x="199.93" y="503.15" width="2.54" height="10.26" fill="#c2c6f0"/>
<rect x="202.42" y="503.15" width="2.54" height="10.26" fill="#ffc2c2"/>
<rect x="204.92" y="503.15" width="2.54" height="10.26" fill="#9ea2e3"/>
<rect x="207.41" y="503.15" width="2.54" height="10.26" fill="#f02f2f"/>
<rect x="209.91" y="503.15" width="2.54" height="10.26" fill="#c5c9f3"/>
<rect x="212.41" y="503.15" width="2.54" height="10.26" fill="#f78181"/>
<rect x="214.90" y="503.15" width="2.54" height="10.26" fill="#fabbbb"/>
<rect x="217.40" y="503.15" width="2.54" height="10.26" fill="#a2a6e7"/>
<rect x="219.90" y="503.15" width="3.37" height="10.26" fill="#bdc1eb"/>
<rect x="223.22" y="503.15" width="2.54" height="10.26" fill="#f37d7d"/>
<rect x="225.72" y="503.15" width="2.54" height="10.26" fill="#f7b8b8"/>
<rect x="228.22" y="503.15" width="3.37" height="10.26" fill="#a3a7e8"/>
<rect x="231.54" y="503.15" width="2.54" height="10.26" fill="#c4c8f2"/>
<rect x="234.04" y="503.15" width="2.54" height="10.26" fill="#febfbf"/>
<rect x="236.54" y="503.15" width="2.54" height="10.26" fill="#fbf8ff"/>
<rect x="239.03" y="503.15" width="3.37" height="10.26" fill="#f7b8b8"/>
<rect x="242.36" y="503.15" width="2.54" height="10.26" fill="#f27c7c"/>
<rect x="244.86" y="503.15" width="2.54" height="10.26" fill="#bfc3ed"/>
<rect x="247.35" y="503.15" width="2.54" height="10.26" fill="#ffc3c3"/>
<rect x="249.85" y="503.15" width="2.54" height="10.26" fill="#a5a9ea"/>
<rect x="252.35" y="503.15" width="2.54" height="10.26" fill="#f47e7e"/>
<rect x="254.84" y="503.15" width="2.54" height="10.26" fill="#fabbbb"/>
<rect x="257.34" y="503.15" width="2.54" height="10.26" fill="#f57f7f"/>
<rect x="259.84" y="503.15" width="3.80" height="10.26" fill="#f23131"/>
<rect x="38.60" y="513.36" width="1.25" height="10.26" fill="#c5c9f3"/>
<rect x="39.81" y="513.36" width="2.18" height="10.26" fill="#4247c9"/>
<rect x="41.96" y="513.36" width="1.36" height="10.26" fill="#c3c7f1"/>
<rect x="43.28" y="513.36" width="1.69" height="10.26" fill="#a2a6e7"/>
<rect x="44.93" y="513.36" width="1.36" height="10.26" fill="#494ed0"/>
<rect x="46.25" y="513.36" width="1.36" height="10.26" fill="#ffc1c1"/>
<rect x="47.57" y="513.36" width="1.03" height="10.26" fill="#c1c5ef"/>
<rect x="48.56" y="513.36" width="2.18" height="10.26" fill="#4348ca"/>
<rect x="50.70" y="513.36" width="1.36" height="10.26" fill="#bdc1eb"/>
<rect x="52.02" y="513.36" width="1.69" height="10.26" fill="#f4f1f8"/>
<rect x="53.67" y="513.36" width="1.03" height="10.26" fill="#ffc1c1"/>
<rect x="54.66" y="513.36" width="1.36" height="10.26" fill="#ed2c2c"/>
<rect x="55.98" y="513.36" width="3.01" height="10.26" fill="#f2eff6"/>
<rect x="58.95" y="513.36" width="1.85" height="10.26" fill="#ffc1c1"/>
<rect x="60.76" y="513.36" width="1.85" height="10.26" fill="#f2eff6"/>
<rect x="62.58" y="513.36" width="1.69" height="10.26" fill="#9a9edf"/>
<rect x="64.23" y="513.36" width="3.50" height="10.26" fill="#4045c7"/>
<rect x="67.69" y="513.36" width="1.36" height="10.26" fill="#a0a4e5"/>
<rect x="69.01" y="513.36" width="1.36" height="10.26" fill="#f3f0f7"/>
<rect x="70.33" y="513.36" width="1.36" height="10.26" fill="#c5c9f3"/>
<rect x="71.65" y="513.36" width="3.17" height="10.26" fill="#fa8484"/>
<rect x="74.79" y="513.36" width="1.85" height="10.26" fill="#4b50d2"/>
<rect x="76.60" y="513.36" width="1.69" height="10.26" fill="#f37d7d"/>
<rect x="78.25" y="513.36" width="1.85" height="10.26" fill="#9b9fe0"/>
<rect x="80.07" y="513.36" width="1.36" height="10.26" fill="#4146c8"/>
<rect x="81.39" y="513.36" width="1.36" height="10.26" fill="#f5f2f9"/>
<rect x="82.70" y="513.36" width="1.69" height="10.26" fill="#484dcf"/>
<rect x="84.35" y="513.36" width="1.36" height="10.26" fill="#fcbdbd"/>
<rect x="85.67" y="513.36" width="1.36" height="10.26" fill="#bcc0ea"/>
<rect x="86.99" y="513.36" width="1.85" height="10.26" fill="#9fa3e4"/>
<rect x="88.81" y="513.36" width="1.36" height="10.26" fill="#febfbf"/>
<rect x="90.13" y="513.36" width="1.36" height="10.26" fill="#f8f5fc"/>
<rect x="91.45" y="513.36" width="2.68" height="10.26" fill="#c2c6f0"/>
<rect x="94.09" y="513.36" width="1.69" height="10.26" fill="#ffc2c2"/>
<rect x="95.74" y="513.36" width="1.52" height="10.26" fill="#f7f4fb"/>
<rect x="97.22" y="513.36" width="3.67" height="10.26" fill="#4146c8"/>
<rect x="100.85" y="513.36" width="0.86" height="10.26" fill="#ffc2c2"/>
<rect x="101.68" y="513.36" width="0.86" height="10.26" fill="#f3f0f7"/>
<rect x="102.50" y="513.36" width="1.36" height="10.26" fill="#464bcd"/>
<rect x="103.82" y="513.36" width="1.85" height="10.26" fill="#f4f1f8"/>
<rect x="105.63" y="513.36" width="3.50" height="10.26" fill="#ffc0c0"/>
<rect x="109.10" y="513.36" width="0.86" height="10.26" fill="#4247c9"/>
<rect x="109.92" y="513.36" width="1.03" height="10.26" fill="#f9baba"/>
<rect x="110.91" y="513.36" width="2.68" height="10.26" fill="#f27c7c"/>
<rect x="113.55" y="513.36" width="3.50" height="10.26" fill="#4146c8"/>
<rect x="117.02" y="513.36" width="1.36" height="10.26" fill="#c4c8f2"/>
<rect x="118.34" y="513.36" width="1.36" height="10.26" fill="#464bcd"/>
<rect x="119.66" y="513.36" width="1.36" height="10.26" fill="#f3f0f7"/>
<rect x="120.98" y="513.36" width="1.36" height="10.26" fill="#fbbcbc"/>
<rect x="122.30" y="513.36" width="5.32" height="10.26" fill="#ffb1b1"/>
<rect x="127.57" y="513.36" width="1.36" height="10.26" fill="#f6f3fa"/>
<rect x="128.89" y="513.36" width="3.01" height="10.26" fill="#bcc0ea"/>
<rect x="131.86" y="513.36" width="2.68" height="10.26" fill="#a3a7e8"/>
<rect x="134.50" y="513.36" width="1.85" height="10.26" fill="#f7f4fb"/>
<rect x="136.32" y="513.36" width="1.69" height="10.26" fill="#ffc3c3"/>
<rect x="137.97" y="513.36" width="1.85" height="10.26" fill="#f17b7b"/>
<rect x="139.78" y="513.36" width="1.85" height="10.26" fill="#f5f2f9"/>
<rect x="141.60" y="513.36" width="2.18" height="10.26" fill="#ffc1c1"/>
<rect x="143.74" y="513.36" width="1.36" height="10.26" fill="#fa8484"/>
<rect x="145.06" y="513.36" width="1.69" height="10.26" fill="#c4c8f2"/>
<rect x="146.71" y="513.36" width="3.83" height="10.26" fill="#f7b8b8"/>
<rect x="150.50" y="513.36" width="2.54" height="10.26" fill="#fabbbb"/>
<rect x="153.00" y="513.36" width="1.87" height="10.26" fill="#4146c8"/>
<rect x="154.83" y="513.36" width="1.87" height="10.26" fill="#f9baba"/>
<rect x="156.66" y="513.36" width="1.20" height="10.26" fill="#fb8585"/>
<rect x="157.82" y="513.36" width="1.37" height="10.26" fill="#fdbebe"/>
<rect x="159.15" y="513.36" width="4.03" height="10.26" fill="#fbf8ff"/>
<rect x="163.15" y="513.36" width="1.87" height="10.26" fill="#fbbcbc"/>
<rect x="164.98" y="513.36" width="3.04" height="10.26" fill="#4a4fd1"/>
<rect x="167.97" y="513.36" width="2.20" height="10.26" fill="#fcbdbd"/>
<rect x="170.14" y="513.36" width="2.70" height="10.26" fill="#f37d7d"/>
<rect x="172.80" y="513.36" width="2.70" height="10.26" fill="#ffc1c1"/>
<rect x="175.46" y="513.36" width="1.37" height="10.26" fill="#4b50d2"/>
<rect x="176.79" y="513.36" width="1.20" height="10.26" fill="#f1eef5"/>
<rect x="177.96" y="513.36" width="1.37" height="10.26" fill="#febfbf"/>
<rect x="179.29" y="513.36" width="2.70" height="10.26" fill="#f78181"/>
<rect x="181.95" y="513.36" width="1.37" height="10.26" fill="#f2eff6"/>
<rect x="183.28" y="513.36" width="1.37" height="10.26" fill="#bec2ec"/>
<rect x="184.61" y="513.36" width="1.37" height="10.26" fill="#f17b7b"/>
<rect x="185.95" y="513.36" width="1.37" height="10.26" fill="#f2eff6"/>
<rect x="187.28" y="513.36" width="1.70" height="10.26" fill="#fabbbb"/>
<rect x="188.94" y="513.36" width="1.37" height="10.26" fill="#f7f4fb"/>
<rect x="190.27" y="513.36" width="1.87" height="10.26" fill="#474cce"/>
<rect x="192.10" y="513.36" width="1.37" height="10.26" fill="#f2eff6"/>
<rect x="193.43" y="513.36" width="3.04" height="10.26" fill="#f07a7a"/>
<rect x="196.43" y="513.36" width="1.37" height="10.26" fill="#f3f0f7"/>
<rect x="197.76" y="513.36" width="1.70" height="10.26" fill="#ffc0c0"/>
<rect x="199.43" y="513.36" width="1.87" height="10.26" fill="#bcc0ea"/>
<rect x="201.26" y="513.36" width="1.37" height="10.26" fill="#f37d7d"/>
<rect x="202.59" y="513.36" width="3.53" height="10.26" fill="#f9baba"/>
<rect x="206.08" y="513.36" width="1.70" height="10.26" fill="#f9f6fd"/>
<rect x="207.75" y="513.36" width="2.20" height="10.26" fill="#c0c4ee"/>
<rect x="209.91" y="513.36" width="1.70" height="10.26" fill="#f7b8b8"/>
<rect x="211.57" y="513.36" width="2.54" height="10.26" fill="#f17b7b"/>
<rect x="214.07" y="513.36" width="2.54" height="10.26" fill="#f4f1f8"/>
<rect x="216.57" y="513.36" width="2.54" height="10.26" fill="#c0c4ee"/>
<rect x="219.06" y="513.36" width="2.54" height="10.26" fill="#febfbf"/>
<rect x="221.56" y="513.36" width="1.70" height="10.26" fill="#f17b7b"/>
<rect x="223.22" y="513.36" width="2.54" height="10.26" fill="#f1eef5"/>
<rect x="225.72" y="513.36" width="2.54" height="10.26" fill="#ffc0c0"/>
<rect x="228.22" y="513.36" width="2.54" height="10.26" fill="#f47e7e"/>
<rect x="230.71" y="513.36" width="2.54" height="10.26" fill="#fabbbb"/>
<rect x="233.21" y="513.36" width="1.70" height="10.26" fill="#4348ca"/>
<rect x="234.87" y="513.36" width="2.54" height="10.26" fill="#fbf8ff"/>
<rect x="237.37" y="513.36" width="2.54" height="10.26" fill="#fabbbb"/>
<rect x="239.87" y="513.36" width="3.37" height="10.26" fill="#f68080"/>
<rect x="243.19" y="513.36" width="2.54" height="10.26" fill="#4449cb"/>
<rect x="245.69" y="513.36" width="2.54" height="10.26" fill="#f4f1f8"/>
<rect x="248.19" y="513.36" width="2.54" height="10.26" fill="#fa8484"/>
<rect x="250.68" y="513.36" width="2.54" height="10.26" fill="#ffc3c3"/>
<rect x="253.18" y="513.36" width="3.37" height="10.26" fill="#f47e7e"/>
<rect x="256.51" y="513.36" width="2.54" height="10.26" fill="#f9baba"/>
<rect x="259.00" y="513.36" width="2.54" height="10.26" fill="#f88282"/>
<rect x="261.50" y="513.36" width="2.14" height="10.26" fill="#f9baba"/>
<rect x="38.60" y="523.58" width="1.91" height="10.26" fill="#babee8"/>
<rect x="40.47" y="523.58" width="3.34" height="10.26" fill="#a4a8e9"/>
<rect x="43.77" y="523.58" width="1.69" height="10.26" fill="#bfc3ed"/>
<rect x="45.42" y="523.58" width="2.51" height="10.26" fill="#a3a7e8"/>
<rect x="47.90" y="523.58" width="1.69" height="10.26" fill="#f13030"/>
<rect x="49.55" y="523.58" width="1.69" height="10.26" fill="#ffc2c2"/>
<rect x="51.20" y="523.58" width="2.51" height="10.26" fill="#bfc3ed"/>
<rect x="53.67" y="523.58" width="2.51" height="10.26" fill="#9b9fe0"/>
<rect x="56.15" y="523.58" width="2.51" height="10.26" fill="#babee8"/>
<rect x="58.62" y="523.58" width="2.51" height="10.26" fill="#f68080"/>
<rect x="61.09" y="523.58" width="2.51" height="10.26" fill="#febfbf"/>
<rect x="63.57" y="523.58" width="2.51" height="10.26" fill="#c4c8f2"/>
<rect x="66.04" y="523.58" width="1.69" height="10.26" fill="#f1eef5"/>
<rect x="67.69" y="523.58" width="2.51" height="10.26" fill="#c1c5ef"/>
<rect x="70.17" y="523.58" width="3.34" height="10.26" fill="#9ea2e3"/>
<rect x="73.47" y="523.58" width="2.51" height="10.26" fill="#c0c4ee"/>
<rect x="75.94" y="523.58" width="2.51" height="10.26" fill="#f8b9b9"/>
<rect x="78.42" y="523.58" width="3.34" height="10.26" fill="#bdc1eb"/>
<rect x="81.71" y="523.58" width="2.51" height="10.26" fill="#f6f3fa"/>
<rect x="84.19" y="523.58" width="2.51" height="10.26" fill="#c5c9f3"/>
<rect x="86.66" y="523.58" width="2.51" height="10.26" fill="#9b9fe0"/>
<rect x="89.14" y="523.58" width="3.34" height="10.26" fill="#bfc3ed"/>
<rect x="92.44" y="523.58" width="3.34" height="10.26" fill="#f63535"/>
<rect x="95.74" y="523.58" width="1.69" height="10.26" fill="#fbf8ff"/>
<rect x="97.39" y="523.58" width="3.34" height="10.26" fill="#f27c7c"/>
<rect x="100.69" y="523.58" width="2.51" height="10.26" fill="#f8b9b9"/>
<rect x="103.16" y="523.58" width="2.51" height="10.26" fill="#fb8585"/>
<rect x="105.63" y="523.58" width="1.69" height="10.26" fill="#f83737"/>
<rect x="107.28" y="523.58" width="2.51" height="10.26" fill="#bfc3ed"/>
<rect x="109.76" y="523.58" width="2.51" height="10.26" fill="#f07a7a"/>
<rect x="112.23" y="523.58" width="2.51" height="10.26" fill="#ffc3c3"/>
<rect x="114.71" y="523.58" width="2.51" height="10.26" fill="#f4f1f8"/>
<rect x="117.18" y="523.58" width="6.64" height="10.26" fill="#a4a8e9"/>
<rect x="123.78" y="523.58" width="2.51" height="10.26" fill="#c1c5ef"/>
<rect x="126.25" y="523.58" width="2.51" height="10.26" fill="#ffc1c1"/>
<rect x="128.73" y="523.58" width="2.51" height="10.26" fill="#bbbfe9"/>
<rect x="131.20" y="523.58" width="2.51" height="10.26" fill="#a3a7e8"/>
<rect x="133.68" y="523.58" width="3.34" height="10.26" fill="#bcc0ea"/>
<rect x="136.98" y="523.58" width="2.51" height="10.26" fill="#fbbcbc"/>
<rect x="139.45" y="523.58" width="2.51" height="10.26" fill="#c4c8f2"/>
<rect x="141.93" y="523.58" width="3.34" height="10.26" fill="#a3a7e8"/>
<rect x="145.23" y="523.58" width="2.51" height="10.26" fill="#bcc0ea"/>
<rect x="147.70" y="523.58" width="2.84" height="10.26" fill="#9ca0e1"/>
<rect x="150.50" y="523.58" width="1.20" height="10.26" fill="#bec2ec"/>
<rect x="151.66" y="523.58" width="2.54" height="10.26" fill="#a0a4e5"/>
<rect x="154.16" y="523.58" width="2.54" height="10.26" fill="#f13030"/>
<rect x="156.66" y="523.58" width="2.54" height="10.26" fill="#bbbfe9"/>
<rect x="159.15" y="523.58" width="2.54" height="10.26" fill="#9ca0e1"/>
<rect x="161.65" y="523.58" width="3.37" height="10.26" fill="#c2c6f0"/>
<rect x="164.98" y="523.58" width="2.54" height="10.26" fill="#ffc2c2"/>
<rect x="167.47" y="523.58" width="2.54" height="10.26" fill="#f07a7a"/>
<rect x="169.97" y="523.58" width="2.54" height="10.26" fill="#c0c4ee"/>
<rect x="172.47" y="523.58" width="2.54" height="10.26" fill="#f9f6fd"/>
<rect x="174.96" y="523.58" width="2.54" height="10.26" fill="#babee8"/>
<rect x="177.46" y="523.58" width="2.54" height="10.26" fill="#a4a8e9"/>
<rect x="179.96" y="523.58" width="3.37" height="10.26" fill="#bbbfe9"/>
<rect x="183.28" y="523.58" width="2.54" height="10.26" fill="#a1a5e6"/>
<rect x="185.78" y="523.58" width="2.54" height="10.26" fill="#c0c4ee"/>
<rect x="188.28" y="523.58" width="2.54" height="10.26" fill="#febfbf"/>
<rect x="190.77" y="523.58" width="2.54" height="10.26" fill="#f02f2f"/>
<rect x="193.27" y="523.58" width="2.54" height="10.26" fill="#bfc3ed"/>
<rect x="195.76" y="523.58" width="2.54" height="10.26" fill="#a0a4e5"/>
<rect x="198.26" y="523.58" width="2.54" height="10.26" fill="#bfc3ed"/>
<rect x="200.76" y="523.58" width="2.54" height="10.26" fill="#f78181"/>
<rect x="203.25" y="523.58" width="2.54" height="10.26" fill="#f5f2f9"/>
<rect x="205.75" y="523.58" width="3.37" height="10.26" fill="#bfc3ed"/>
<rect x="209.08" y="523.58" width="3.37" height="10.26" fill="#9a9edf"/>
<rect x="212.41" y="523.58" width="2.54" height="10.26" fill="#febfbf"/>
<rect x="214.90" y="523.58" width="1.70" height="10.26" fill="#bfc3ed"/>
<rect x="216.57" y="523.58" width="2.54" height="10.26" fill="#9ca0e1"/>
<rect x="219.06" y="523.58" width="2.54" height="10.26" fill="#f98383"/>
<rect x="221.56" y="523.58" width="2.54" height="10.26" fill="#ffc1c1"/>
<rect x="224.06" y="523.58" width="2.54" height="10.26" fill="#bfc3ed"/>
<rect x="226.55" y="523.58" width="2.54" height="10.26" fill="#f9baba"/>
<rect x="229.05" y="523.58" width="2.54" height="10.26" fill="#f57f7f"/>
<rect x="231.54" y="523.58" width="2.54" height="10.26" fill="#bbbfe9"/>
<rect x="234.04" y="523.58" width="2.54" height="10.26" fill="#f8b9b9"/>
<rect x="236.54" y="523.58" width="2.54" height="10.26" fill="#f57f7f"/>
<rect x="239.03" y="523.58" width="2.54" height="10.26" fill="#bbbfe9"/>
<rect x="241.53" y="523.58" width="1.70" height="10.26" fill="#f23131"/>
<rect x="243.19" y="523.58" width="2.54" height="10.26" fill="#fdbebe"/>
<rect x="245.69" y="523.58" width="2.54" height="10.26" fill="#9a9edf"/>
<rect x="248.19" y="523.58" width="2.54" height="10.26" fill="#c1c5ef"/>
<rect x="250.68" y="523.58" width="2.54" height="10.26" fill="#f07a7a"/>
<rect x="253.18" y="523.58" width="3.37" height="10.26" fill="#ffc0c0"/>
<rect x="256.51" y="523.58" width="7.13" height="10.26" fill="#f63535"/></g>
<rect x="38.6" y="421.4" width="225.00000000000003" height="112.39999999999998" fill="none" stroke="#555" stroke-width="0.9"/>
<text transform="translate(269.6,426.20) scale(1,1.04)" font-size="6" font-family="Liberation Sans, sans-serif" fill="#111" stroke="#111" stroke-width="0.18">LINC02119</text>
<text transform="translate(269.6,436.40) scale(1,1.04)" font-size="6" font-family="Liberation Sans, sans-serif" fill="#111" stroke="#111" stroke-width="0.18">AC022784.3</text>
<text transform="translate(269.6,446.60) scale(1,1.04)" font-size="6" font-family="Liberation Sans, sans-serif" fill="#111" stroke="#111" stroke-width="0.18">FOXD3-AS1</text>
<text transform="translate(269.6,456.80) scale(1,1.04)" font-size="6" font-family="Liberation Sans, sans-serif" fill="#111" stroke="#111" stroke-width="0.18">AP000911.1</text>
<text transform="translate(269.6,467.00) scale(1,1.04)" font-size="6" font-family="Liberation Sans, sans-serif" fill="#111" stroke="#111" stroke-width="0.18">AP002358.1</text>
<text transform="translate(269.6,477.20) scale(1,1.04)" font-size="6" font-family="Liberation Sans, sans-serif" fill="#111" stroke="#111" stroke-width="0.18">AC123768.1</text>
<text transform="translate(269.6,487.40) scale(1,1.04)" font-size="6" font-family="Liberation Sans, sans-serif" fill="#111" stroke="#111" stroke-width="0.18">AC100791.2</text>
<text transform="translate(269.6,497.60) scale(1,1.04)" font-size="6" font-family="Liberation Sans, sans-serif" fill="#111" stroke="#111" stroke-width="0.18">AC093895.1</text>
<text transform="translate(269.6,507.80) scale(1,1.04)" font-size="6" font-family="Liberation Sans, sans-serif" fill="#111" stroke="#111" stroke-width="0.18">AC011352.3</text>
<text transform="translate(269.6,518.00) scale(1,1.04)" font-size="6" font-family="Liberation Sans, sans-serif" fill="#111" stroke="#111" stroke-width="0.18">AL356662.1</text>
<text transform="translate(269.6,528.20) scale(1,1.04)" font-size="6" font-family="Liberation Sans, sans-serif" fill="#111" stroke="#111" stroke-width="0.18">AC090502.1</text>
<defs><linearGradient id="cb" x1="0" y1="0" x2="0" y2="1"><stop offset="0" stop-color="#0505cc"/><stop offset="0.5" stop-color="#ffffff"/><stop offset="1" stop-color="#ff0000"/></linearGradient></defs>
<rect x="13.3" y="426.1" width="6.2" height="89.5" fill="url(#cb)" stroke="#666" stroke-width="0.6"/>
<line x1="13.3" y1="438.3" x2="14.3" y2="438.3" stroke="#444" stroke-width="0.8"/><line x1="18.5" y1="438.3" x2="19.5" y2="438.3" stroke="#444" stroke-width="0.8"/>
<line x1="13.3" y1="470.4" x2="14.3" y2="470.4" stroke="#444" stroke-width="0.8"/><line x1="18.5" y1="470.4" x2="19.5" y2="470.4" stroke="#444" stroke-width="0.8"/>
<line x1="13.3" y1="502.4" x2="14.3" y2="502.4" stroke="#444" stroke-width="0.8"/><line x1="18.5" y1="502.4" x2="19.5" y2="502.4" stroke="#444" stroke-width="0.8"/>
<text transform="translate(0.6,441.7) scale(1,1.04)" font-size="9.5" font-family="Liberation Sans, sans-serif" fill="#333">-2</text>
<text transform="translate(0.6,473.8) scale(1,1.04)" font-size="9.5" font-family="Liberation Sans, sans-serif" fill="#333">0</text>
<text transform="translate(0.6,505.8) scale(1,1.04)" font-size="9.5" font-family="Liberation Sans, sans-serif" fill="#333">2</text>
<text transform="translate(381.9,10.1) scale(1,1.04)" font-size="13" font-family="Liberation Sans, sans-serif" fill="#111" stroke="#111" stroke-width="0.35">D</text>
<line x1="419.7" y1="5.7" x2="419.7" y2="244.8" stroke="#000000" stroke-width="1.35"/>
<line x1="414.8" y1="242.20" x2="419.7" y2="242.20" stroke="#000000" stroke-width="1.2"/>
<text transform="translate(414.2,245.20) scale(1,1.04)" font-size="9" font-weight="bold" text-anchor="end" font-family="Liberation Sans, sans-serif" fill="#111">0</text>
<line x1="414.8" y1="194.91" x2="419.7" y2="194.91" stroke="#000000" stroke-width="1.2"/>
<text transform="translate(414.2,197.91) scale(1,1.04)" font-size="9" font-weight="bold" text-anchor="end" font-family="Liberation Sans, sans-serif" fill="#111">20</text>
<line x1="414.8" y1="147.62" x2="419.7" y2="147.62" stroke="#000000" stroke-width="1.2"/>
<text transform="translate(414.2,150.62) scale(1,1.04)" font-size="9" font-weight="bold" text-anchor="end" font-family="Liberation Sans, sans-serif" fill="#111">40</text>
<line x1="414.8" y1="100.32" x2="419.7" y2="100.32" stroke="#000000" stroke-width="1.2"/>
<text transform="translate(414.2,103.32) scale(1,1.04)" font-size="9" font-weight="bold" text-anchor="end" font-family="Liberation Sans, sans-serif" fill="#111">60</text>
<line x1="414.8" y1="53.03" x2="419.7" y2="53.03" stroke="#000000" stroke-width="1.2"/>
<text transform="translate(414.2,56.03) scale(1,1.04)" font-size="9" font-weight="bold" text-anchor="end" font-family="Liberation Sans, sans-serif" fill="#111">80</text>
<line x1="414.8" y1="5.74" x2="419.7" y2="5.74" stroke="#000000" stroke-width="1.2"/>
<text transform="translate(414.2,8.74) scale(1,1.04)" font-size="9" font-weight="bold" text-anchor="end" font-family="Liberation Sans, sans-serif" fill="#111">100</text>
<line x1="419.09999999999997" y1="242.2" x2="680.1" y2="242.2" stroke="#000000" stroke-width="1.25"/>
<line x1="419.70" y1="242.2" x2="419.70" y2="244.9" stroke="#000000" stroke-width="1.2"/>
<text transform="translate(419.70,255.2) scale(1,1.04)" font-size="8.5" font-weight="bold" text-anchor="middle" font-family="Liberation Sans, sans-serif" fill="#111">0</text>
<line x1="506.35" y1="242.2" x2="506.35" y2="244.9" stroke="#000000" stroke-width="1.2"/>
<text transform="translate(506.35,255.2) scale(1,1.04)" font-size="8.5" font-weight="bold" text-anchor="middle" font-family="Liberation Sans, sans-serif" fill="#111">5</text>
<line x1="593.00" y1="242.2" x2="593.00" y2="244.9" stroke="#000000" stroke-width="1.2"/>
<text transform="translate(593.00,255.2) scale(1,1.04)" font-size="8.5" font-weight="bold" text-anchor="middle" font-family="Liberation Sans, sans-serif" fill="#111">10</text>
<line x1="679.65" y1="242.2" x2="679.65" y2="244.9" stroke="#000000" stroke-width="1.2"/>
<text transform="translate(679.65,255.2) scale(1,1.04)" font-size="8.5" font-weight="bold" text-anchor="middle" font-family="Liberation Sans, sans-serif" fill="#111">15</text>
<text transform="translate(548.8,267.7) scale(1,1.04)" font-size="10" font-weight="bold" text-anchor="middle" font-family="Liberation Sans, sans-serif" fill="#111">Years</text>
<text class="rot" transform="translate(394.2,123.2) rotate(-90) scale(1,1.04)" font-size="10" font-weight="bold" text-anchor="middle" font-family="Liberation Sans, sans-serif" fill="#111">Recurrence-free survival (%)</text>
<text transform="translate(427.6,228.5) scale(1,1.04)" font-size="10.6" textLength="42.6" lengthAdjust="spacingAndGlyphs" font-family="Liberation Sans, sans-serif" fill="#111" stroke="#111" stroke-width="0.15"><tspan font-style="italic">P</tspan> &lt; 0.001</text>
<path d="M423.6,6.6 V28 H429.4 V35.4 H434.6 V42.8 H435.4 V44 H435.9 V49 H436.5 V56.1 H437.3 V57.3 H437.6 V66.3 H443.3 V77.6 H443.8 V88.6 H444.5 V99.3 H455.5 V115.3 H458.2 V131.3 H464.4 V149.4 H465.3 V168 H473.4 V217.6 H474.4 V242.2" fill="none" stroke="#ff0000" stroke-width="1.3"/>
<line x1="443.1" y1="66.3" x2="443.1" y2="64.3" stroke="#ff0000" stroke-width="1"/>
<line x1="447.5" y1="99.3" x2="447.5" y2="97.3" stroke="#ff0000" stroke-width="1"/>
<line x1="450.3" y1="99.3" x2="450.3" y2="97.3" stroke="#ff0000" stroke-width="1"/>
<line x1="452.6" y1="99.3" x2="452.6" y2="97.3" stroke="#ff0000" stroke-width="1"/>
<line x1="455.1" y1="99.3" x2="455.1" y2="97.3" stroke="#ff0000" stroke-width="1"/>
<line x1="461.5" y1="131.3" x2="461.5" y2="129.3" stroke="#ff0000" stroke-width="1"/>
<line x1="467" y1="168" x2="467" y2="166" stroke="#ff0000" stroke-width="1"/>
<path d="M419.7,5.8 H422 V7.5 H423 V9 H423.7 V10.5 H427.4 V12.3 H428.6 V14 H430.3 V16 H436.8 V18.3 H442.4 V21.6 H446.1 V22.3 H446.5 V24.6 H458.1 V28.3 H460.4 V31.3 H467 V34.8 H476.2 V40.9" fill="none" stroke="#0000c8" stroke-width="1.8"/>
<path d="M476.2,40.9 H481.7 V46.6 H483.4 V48.2 H483.6 V52.9 H491.1 V60.7 H491.9 V73.2 H510.7 V83.4 H511.2 V92.8 H517 V104.5 H527.6 V116.2 H541.4 V130.1 H595.2 V157.9 H622.8" fill="none" stroke="#0000c8" stroke-width="1.45"/>
<line x1="421" y1="5.8" x2="421" y2="3.5" stroke="#0000c8" stroke-width="1.3"/>
<line x1="425" y1="10.5" x2="425" y2="8.2" stroke="#0000c8" stroke-width="1.3"/>
<line x1="432.7" y1="16" x2="432.7" y2="13.7" stroke="#0000c8" stroke-width="1.3"/>
<line x1="434.8" y1="16" x2="434.8" y2="13.7" stroke="#0000c8" stroke-width="1.3"/>
<line x1="445" y1="21.6" x2="445" y2="19.3" stroke="#0000c8" stroke-width="1.3"/>
<line x1="448" y1="24.6" x2="448" y2="22.3" stroke="#0000c8" stroke-width="1.3"/>
<line x1="450" y1="24.6" x2="450" y2="22.3" stroke="#0000c8" stroke-width="1.3"/>
<line x1="452.3" y1="24.6" x2="452.3" y2="22.3" stroke="#0000c8" stroke-width="1.3"/>
<line x1="454" y1="24.6" x2="454" y2="22.3" stroke="#0000c8" stroke-width="1.3"/>
<line x1="455.5" y1="24.6" x2="455.5" y2="22.3" stroke="#0000c8" stroke-width="1.3"/>
<line x1="457.2" y1="24.6" x2="457.2" y2="22.3" stroke="#0000c8" stroke-width="1.3"/>
<line x1="462" y1="31.3" x2="462" y2="29.0" stroke="#0000c8" stroke-width="1.3"/>
<line x1="463.3" y1="31.3" x2="463.3" y2="29.0" stroke="#0000c8" stroke-width="1.3"/>
<line x1="465.8" y1="31.3" x2="465.8" y2="29.0" stroke="#0000c8" stroke-width="1.3"/>
<line x1="466.8" y1="31.3" x2="466.8" y2="29.0" stroke="#0000c8" stroke-width="1.3"/>
<line x1="468.5" y1="34.8" x2="468.5" y2="32.5" stroke="#0000c8" stroke-width="1.3"/>
<line x1="470" y1="34.8" x2="470" y2="32.5" stroke="#0000c8" stroke-width="1.3"/>
<line x1="471.5" y1="34.8" x2="471.5" y2="32.5" stroke="#0000c8" stroke-width="1.3"/>
<line x1="473" y1="34.8" x2="473" y2="32.5" stroke="#0000c8" stroke-width="1.3"/>
<line x1="474.5" y1="34.8" x2="474.5" y2="32.5" stroke="#0000c8" stroke-width="1.3"/>
<line x1="475.8" y1="34.8" x2="475.8" y2="32.5" stroke="#0000c8" stroke-width="1.3"/>
<line x1="482.8" y1="46.6" x2="482.8" y2="44.300000000000004" stroke="#0000c8" stroke-width="1.3"/>
<line x1="488.5" y1="52.9" x2="488.5" y2="50.6" stroke="#0000c8" stroke-width="1.3"/>
<line x1="493.5" y1="73.2" x2="493.5" y2="70.9" stroke="#0000c8" stroke-width="1.3"/>
<line x1="496" y1="73.2" x2="496" y2="70.9" stroke="#0000c8" stroke-width="1.3"/>
<line x1="500.5" y1="73.2" x2="500.5" y2="70.9" stroke="#0000c8" stroke-width="1.3"/>
<line x1="503.5" y1="73.2" x2="503.5" y2="70.9" stroke="#0000c8" stroke-width="1.3"/>
<line x1="506.5" y1="73.2" x2="506.5" y2="70.9" stroke="#0000c8" stroke-width="1.3"/>
<line x1="509.6" y1="73.2" x2="509.6" y2="70.9" stroke="#0000c8" stroke-width="1.3"/>
<line x1="514.3" y1="92.8" x2="514.3" y2="90.5" stroke="#0000c8" stroke-width="1.3"/>
<line x1="516.5" y1="92.8" x2="516.5" y2="90.5" stroke="#0000c8" stroke-width="1.3"/>
<line x1="532.5" y1="116.2" x2="532.5" y2="113.9" stroke="#0000c8" stroke-width="1.3"/>
<line x1="539.6" y1="116.2" x2="539.6" y2="113.9" stroke="#0000c8" stroke-width="1.3"/>
<line x1="557.3" y1="130.1" x2="557.3" y2="127.8" stroke="#0000c8" stroke-width="1.3"/>
<line x1="561.4" y1="130.1" x2="561.4" y2="127.8" stroke="#0000c8" stroke-width="1.3"/>
<line x1="592.6" y1="130.1" x2="592.6" y2="127.8" stroke="#0000c8" stroke-width="1.3"/>
<line x1="608.3" y1="157.9" x2="608.3" y2="155.6" stroke="#0000c8" stroke-width="1.3"/>
<line x1="620.9" y1="157.9" x2="620.9" y2="155.6" stroke="#0000c8" stroke-width="1.3"/>
<line x1="622.5" y1="157.9" x2="622.5" y2="155.6" stroke="#0000c8" stroke-width="1.3"/>
<line x1="622" y1="27.8" x2="634.7" y2="27.8" stroke="#ff0000" stroke-width="1.3"/>
<line x1="628.5" y1="27.8" x2="628.5" y2="25.6" stroke="#ff0000" stroke-width="1"/>
<line x1="622" y1="41.7" x2="634.7" y2="41.7" stroke="#3333cc" stroke-width="1.5"/>
<line x1="628.5" y1="41.7" x2="628.5" y2="39.5" stroke="#3333cc" stroke-width="1"/>
<text transform="translate(642.4,30.9) scale(1,1.04)" font-size="9.6" font-family="Liberation Sans, sans-serif" fill="#1a1a1a">High risk</text>
<text transform="translate(642.4,45) scale(1,1.04)" font-size="9.6" font-family="Liberation Sans, sans-serif" fill="#1a1a1a">Low risk</text>
<text transform="translate(382.9,286.8) scale(1,1.04)" font-size="13" font-family="Liberation Sans, sans-serif" fill="#111" stroke="#111" stroke-width="0.35">E</text>
<line x1="422.5" y1="307.3" x2="422.5" y2="544.0" stroke="#000000" stroke-width="1.35"/>
<line x1="421.9" y1="544.0" x2="682.9" y2="544.0" stroke="#000000" stroke-width="1.3"/>
<line x1="419" y1="531.50" x2="422.5" y2="531.50" stroke="#000000" stroke-width="1.2"/>
<text transform="translate(416.9,534.40) scale(1,1.04)" font-size="8.8" font-weight="bold" text-anchor="end" font-family="Liberation Sans, sans-serif" fill="#111">0.0</text>
<line x1="436.30" y1="544.0" x2="436.30" y2="547" stroke="#000000" stroke-width="1.2"/>
<text transform="translate(436.30,557.6) scale(1,1.04)" font-size="8.8" font-weight="bold" text-anchor="middle" font-family="Liberation Sans, sans-serif" fill="#111">0.0</text>
<line x1="419" y1="489.26" x2="422.5" y2="489.26" stroke="#000000" stroke-width="1.2"/>
<text transform="translate(416.9,492.16) scale(1,1.04)" font-size="8.8" font-weight="bold" text-anchor="end" font-family="Liberation Sans, sans-serif" fill="#111">0.2</text>
<line x1="482.78" y1="544.0" x2="482.78" y2="547" stroke="#000000" stroke-width="1.2"/>
<text transform="translate(482.78,557.6) scale(1,1.04)" font-size="8.8" font-weight="bold" text-anchor="middle" font-family="Liberation Sans, sans-serif" fill="#111">0.2</text>
<line x1="419" y1="447.02" x2="422.5" y2="447.02" stroke="#000000" stroke-width="1.2"/>
<text transform="translate(416.9,449.92) scale(1,1.04)" font-size="8.8" font-weight="bold" text-anchor="end" font-family="Liberation Sans, sans-serif" fill="#111">0.4</text>
<line x1="529.26" y1="544.0" x2="529.26" y2="547" stroke="#000000" stroke-width="1.2"/>
<text transform="translate(529.26,557.6) scale(1,1.04)" font-size="8.8" font-weight="bold" text-anchor="middle" font-family="Liberation Sans, sans-serif" fill="#111">0.4</text>
<line x1="419" y1="404.78" x2="422.5" y2="404.78" stroke="#000000" stroke-width="1.2"/>
<text transform="translate(416.9,407.68) scale(1,1.04)" font-size="8.8" font-weight="bold" text-anchor="end" font-family="Liberation Sans, sans-serif" fill="#111">0.6</text>
<line x1="575.74" y1="544.0" x2="575.74" y2="547" stroke="#000000" stroke-width="1.2"/>
<text transform="translate(575.74,557.6) scale(1,1.04)" font-size="8.8" font-weight="bold" text-anchor="middle" font-family="Liberation Sans, sans-serif" fill="#111">0.6</text>
<line x1="419" y1="362.54" x2="422.5" y2="362.54" stroke="#000000" stroke-width="1.2"/>
<text transform="translate(416.9,365.44) scale(1,1.04)" font-size="8.8" font-weight="bold" text-anchor="end" font-family="Liberation Sans, sans-serif" fill="#111">0.8</text>
<line x1="622.22" y1="544.0" x2="622.22" y2="547" stroke="#000000" stroke-width="1.2"/>
<text transform="translate(622.22,557.6) scale(1,1.04)" font-size="8.8" font-weight="bold" text-anchor="middle" font-family="Liberation Sans, sans-serif" fill="#111">0.8</text>
<line x1="419" y1="320.30" x2="422.5" y2="320.30" stroke="#000000" stroke-width="1.2"/>
<text transform="translate(416.9,323.20) scale(1,1.04)" font-size="8.8" font-weight="bold" text-anchor="end" font-family="Liberation Sans, sans-serif" fill="#111">1.0</text>
<line x1="668.70" y1="544.0" x2="668.70" y2="547" stroke="#000000" stroke-width="1.2"/>
<text transform="translate(668.70,557.6) scale(1,1.04)" font-size="8.8" font-weight="bold" text-anchor="middle" font-family="Liberation Sans, sans-serif" fill="#111">1.0</text>
<text transform="translate(552.5,571.4) scale(1,1.04)" font-size="9.8" font-weight="bold" text-anchor="middle" font-family="Liberation Sans, sans-serif" fill="#111">False positive fraction</text>
<text class="rot" transform="translate(396,426) rotate(-90) scale(1,1.04)" font-size="9.7" font-weight="bold" text-anchor="middle" font-family="Liberation Sans, sans-serif" fill="#111">True positive fraction</text>
<line x1="422.5" y1="544.0" x2="681.9" y2="308.8" stroke="#222" stroke-width="1.1" stroke-dasharray="1.7,1.6"/>
<polyline points="436.2,519 462.4,491 462.9,477.6 463.7,456.1 464.1,436.6 466.6,420 467.8,410.5 472.2,398.3 476.5,392.2 481.8,386.1 484.4,380.9 491.3,373.1 500,364.4 510.5,357.4 517.4,353.9 526.1,349.9 533.1,349.6 542.7,347.9 552.3,343 570,336.5 576.4,334.7 592.8,327.4 598.3,323.4 605.6,321.5 612.9,320.6" fill="none" stroke="#1a1ad0" stroke-width="1.4" stroke-linejoin="round"/>
<polyline points="436.2,531.5 436.2,507.3 462.9,477.6 466.6,456.1 470.2,434.1 473.9,419.5 477.4,407 480.9,393.1 486.1,386.1 491.3,377.4 501.8,367 512.2,358.3 524.4,350.5 536.6,344.4 550.5,339.5 559.2,336 570,331.8 578.2,328.3 596.5,323.7 612.9,320.6 668.9,320.6" fill="none" stroke="#ff0000" stroke-width="1.4" stroke-linejoin="round"/>
<line x1="484.1" y1="516.3" x2="497.2" y2="516.3" stroke="#ff0000" stroke-width="1.2"/>
<line x1="484.1" y1="532.5" x2="497.2" y2="532.5" stroke="#1a1ad0" stroke-width="1.2"/>
<text transform="translate(504.2,519.6) scale(1,1.04)" font-size="10" font-family="Liberation Sans, sans-serif" fill="#222">AUC at 3 years:0.801 (0.724-0.811)</text>
<text transform="translate(504.2,535.7) scale(1,1.04)" font-size="10" font-family="Liberation Sans, sans-serif" fill="#222">AUC at 5 years:0.801 (0.718-0.885)</text>
</svg></div>
</body></html>
